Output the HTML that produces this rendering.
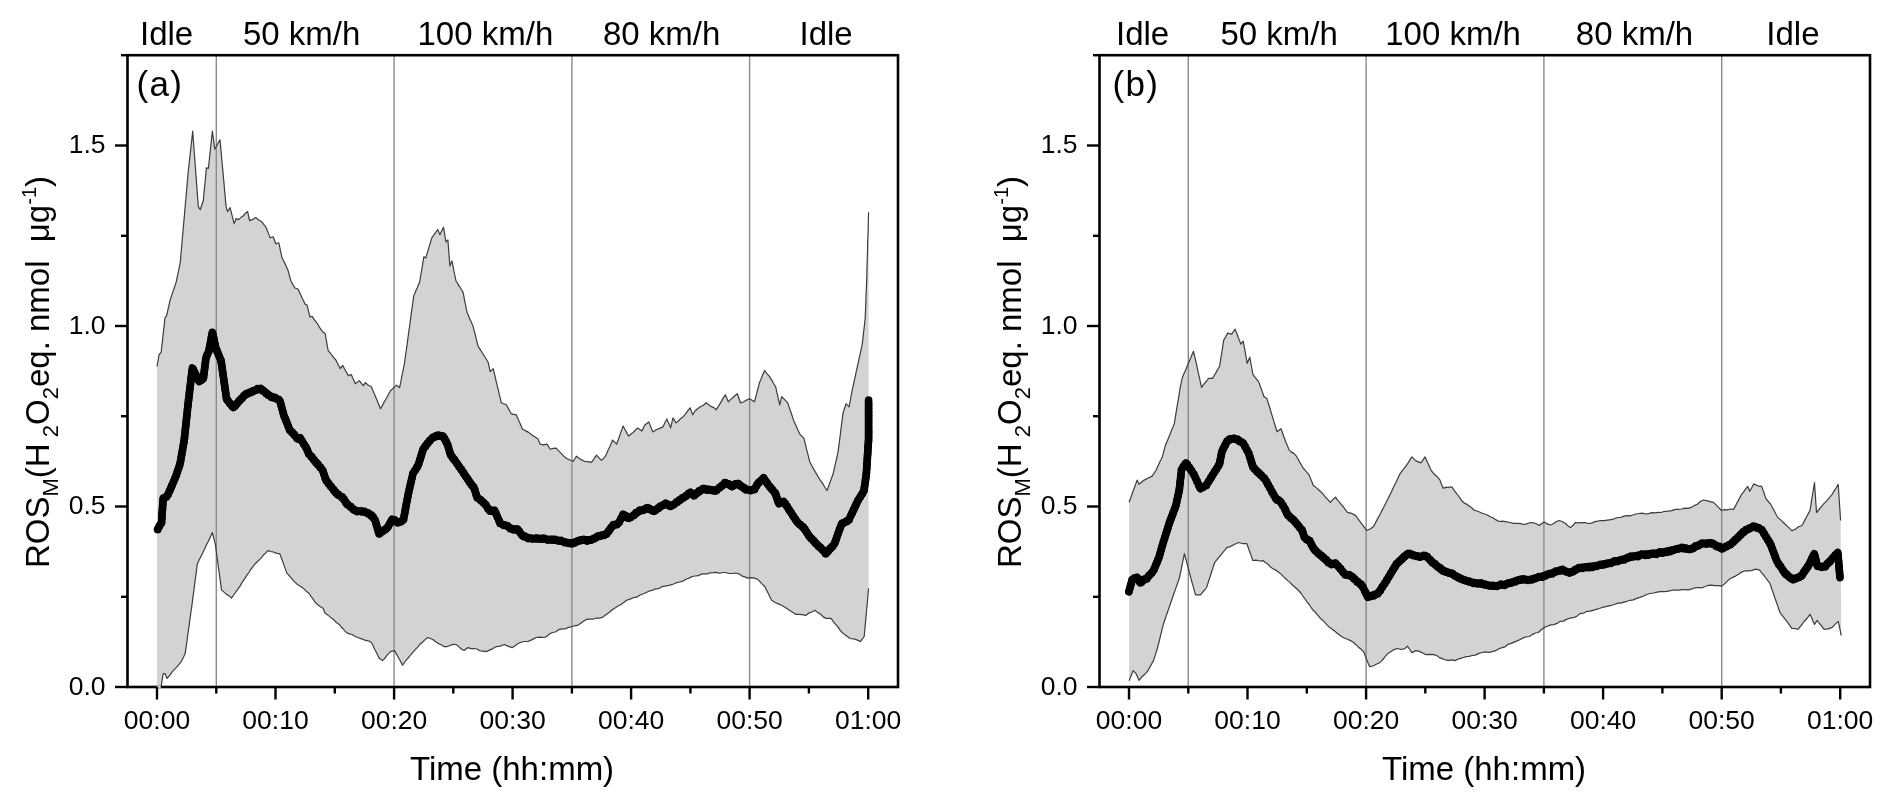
<!DOCTYPE html>
<html><head><meta charset="utf-8"><style>
html,body{margin:0;padding:0;background:#fff;}
svg{display:block;will-change:transform;}
text{font-family:"Liberation Sans",sans-serif;fill:#000;}
.tl{font-size:26.5px;}
.top{font-size:33px;}
.pl{font-size:35px;letter-spacing:1.3px;}
.ti{font-size:33px;}
</style></head><body>
<svg width="1892" height="805" viewBox="0 0 1892 805">
<rect width="1892" height="805" fill="#fff"/>
<polygon points="157.0,366.5 157.5,363.5 158.1,360.5 158.6,357.5 159.1,354.5 161.1,352.5 161.5,349.3 161.8,346.1 162.2,342.9 162.6,339.7 162.9,336.4 163.3,333.2 163.6,330.0 164.0,326.8 164.4,323.6 164.7,320.4 165.1,317.2 166.5,316.2 167.2,313.0 167.9,309.8 168.7,306.5 169.4,303.4 170.1,300.1 171.1,297.1 172.1,294.1 173.1,291.1 174.2,288.0 175.2,285.1 176.2,282.0 176.9,278.8 177.5,275.7 178.2,272.4 178.9,269.3 179.5,266.1 180.2,262.9 180.5,259.9 180.7,256.9 181.0,253.8 181.3,250.8 181.5,247.8 181.8,244.8 182.1,241.8 182.3,238.7 182.6,235.7 182.9,232.7 183.1,229.7 183.4,226.7 183.7,223.6 183.9,220.6 184.2,217.6 184.5,214.6 184.7,211.6 185.0,208.5 185.3,205.5 185.5,202.5 185.8,199.5 186.1,196.5 186.3,193.4 186.6,190.4 186.9,187.4 187.1,184.4 187.4,181.4 187.7,178.3 187.9,175.3 188.2,172.3 188.5,169.1 188.9,166.0 189.2,162.8 189.6,159.6 189.9,156.5 190.3,153.3 190.6,150.1 191.0,146.9 191.3,143.8 191.7,140.6 192.0,137.4 192.4,134.3 192.7,131.1 192.9,134.1 193.1,137.1 193.4,140.2 193.6,143.2 193.8,146.2 194.0,149.2 194.3,152.2 194.5,155.3 194.7,158.3 194.9,161.3 195.2,164.3 195.4,167.3 195.6,170.4 195.8,173.4 196.1,176.4 196.3,179.4 196.5,182.4 196.7,185.5 197.0,188.5 197.2,191.5 197.4,194.5 197.6,197.5 197.9,200.6 198.1,203.6 198.3,206.6 200.3,209.6 201.3,206.5 202.3,203.5 203.3,200.5 203.6,197.2 203.9,194.0 204.2,190.7 204.5,187.5 204.9,184.2 205.2,180.9 205.5,177.7 205.8,174.4 206.1,171.2 206.4,167.9 208.4,168.3 208.7,165.2 209.1,162.1 209.4,159.0 209.7,155.9 210.1,152.8 210.4,149.7 210.7,146.6 211.1,143.5 211.4,140.4 211.7,137.3 212.1,134.2 212.4,131.1 212.8,134.1 213.2,137.1 213.6,140.1 214.0,143.2 214.4,146.2 214.8,149.2 216.5,146.2 218.3,142.8 220.0,139.7 220.3,142.7 220.6,145.8 220.8,148.8 221.1,151.9 221.4,154.9 221.7,158.0 221.9,161.0 222.2,164.0 222.5,167.1 222.8,170.1 223.1,173.2 223.3,176.2 223.6,179.2 223.9,182.3 224.2,185.3 224.4,188.4 224.7,191.4 225.0,194.4 225.3,197.5 225.5,200.5 225.8,203.6 226.1,206.6 227.5,211.6 230.1,207.6 230.9,210.9 231.7,214.0 232.5,217.3 233.3,220.4 234.1,223.7 236.2,218.6 238.6,219.6 240.8,217.6 243.1,216.0 245.3,213.3 247.6,211.6 248.3,214.6 248.9,217.6 249.6,220.6 252.6,219.4 255.7,217.6 258.7,219.9 261.7,221.7 263.7,224.4 265.7,226.7 267.2,230.3 268.7,234.1 270.2,237.8 273.2,236.7 274.5,240.2 275.8,243.8 278.8,242.8 279.6,246.3 280.3,249.8 281.1,253.4 281.8,256.9 283.3,260.3 284.9,263.4 286.4,266.8 287.9,270.0 288.9,273.6 289.9,277.3 290.9,281.0 292.9,284.6 294.9,288.0 298.0,289.0 299.4,292.0 300.8,295.1 302.2,298.2 303.6,301.1 305.0,304.1 307.0,305.1 307.8,308.1 308.5,311.1 309.2,314.1 310.0,317.2 312.0,316.2 313.9,319.1 315.7,321.4 317.6,324.0 319.4,327.1 321.2,329.8 323.1,332.3 325.1,333.3 325.7,336.7 326.3,340.2 326.9,343.5 327.5,347.0 328.1,350.4 330.1,352.9 332.1,355.5 334.2,358.1 336.2,360.5 337.5,363.3 338.9,366.0 340.2,368.6 342.8,365.5 344.6,369.0 346.5,372.3 348.3,375.6 351.3,374.6 352.6,377.7 354.0,380.6 355.3,383.7 359.3,380.6 361.4,383.4 363.4,385.7 365.4,382.6 368.4,385.2 371.4,386.7 372.7,389.9 374.0,392.9 375.3,396.2 376.6,399.3 377.9,402.4 379.2,405.6 380.5,408.8 382.2,405.9 383.8,402.8 385.5,399.7 387.2,396.8 388.8,393.8 390.5,390.7 393.6,387.9 396.6,385.1 399.6,387.7 400.2,384.6 400.9,381.4 401.5,378.2 402.1,375.1 402.7,372.0 403.4,368.8 404.0,365.7 404.6,362.5 405.0,359.5 405.4,356.5 405.8,353.4 406.3,350.4 406.7,347.4 407.1,344.4 407.5,341.4 407.9,338.4 408.3,335.3 408.7,332.3 409.1,329.3 409.6,326.3 410.0,323.3 410.4,320.2 410.8,317.2 411.2,314.2 411.6,311.2 412.0,308.2 412.5,305.2 412.9,302.1 413.3,299.1 413.7,296.1 414.9,293.3 416.1,290.3 417.3,287.7 418.5,284.8 419.7,282.0 420.2,278.9 420.7,275.7 421.2,272.6 421.8,269.5 422.3,266.3 422.8,263.2 423.3,260.1 423.8,256.9 425.8,257.9 426.8,254.6 427.8,251.2 428.8,247.8 429.8,244.5 430.8,241.2 431.8,237.8 433.8,235.2 435.8,232.2 437.8,229.7 439.9,234.7 441.7,231.0 443.5,227.3 444.1,230.9 444.7,234.5 445.3,238.2 445.9,241.8 447.9,239.8 448.1,243.1 448.4,246.3 448.6,249.6 448.9,252.8 449.1,256.1 449.4,259.4 449.6,262.6 449.9,265.9 451.9,260.9 452.6,264.2 453.3,267.6 453.9,271.0 454.6,274.3 455.3,277.7 456.0,281.0 457.8,283.6 459.5,286.6 461.2,289.3 463.0,292.1 463.7,295.4 464.3,298.8 465.0,302.2 465.7,305.5 466.3,308.9 467.0,312.2 468.2,315.0 469.4,317.9 470.7,320.8 471.9,323.4 473.1,326.3 473.9,329.7 474.8,333.0 475.6,336.3 476.4,339.7 477.3,343.1 478.1,346.4 480.1,349.4 482.1,352.5 484.1,355.7 486.2,359.0 488.2,362.5 488.9,365.5 489.5,368.6 490.2,371.6 493.2,368.6 493.9,371.7 494.7,374.8 495.4,377.9 496.1,381.0 496.9,384.2 497.6,387.3 498.4,390.4 499.1,393.4 499.8,396.6 500.6,399.7 501.3,402.8 506.3,404.8 508.0,407.9 509.6,410.7 511.3,413.8 516.3,414.8 517.5,417.7 518.7,420.5 520.0,423.3 521.2,426.1 522.4,428.9 525.2,430.6 528.1,432.1 531.6,434.7 535.1,437.1 538.1,439.1 540.1,444.2 543.7,444.8 547.2,444.2 550.2,449.2 553.2,448.3 556.2,448.2 558.7,450.8 561.2,453.3 563.8,456.1 566.3,458.2 569.8,460.0 573.3,461.3 576.4,456.2 579.1,458.2 581.7,459.9 584.4,461.3 588.0,461.6 591.5,462.3 594.0,458.9 596.5,455.2 599.0,457.8 601.5,460.3 605.5,456.2 606.9,452.9 608.3,449.8 609.8,446.7 611.2,443.4 612.6,440.1 616.6,444.2 617.7,441.2 618.8,438.2 619.9,435.1 620.9,432.0 622.0,429.1 623.1,426.0 625.0,429.5 626.8,432.9 628.7,436.1 631.0,434.0 633.2,432.4 635.5,430.0 637.8,428.0 641.8,431.0 643.3,428.1 644.8,424.9 648.8,421.9 650.2,425.4 651.5,428.7 652.9,432.0 656.2,429.8 659.6,428.4 662.9,426.9 664.9,422.8 666.9,418.9 668.1,421.9 669.4,424.8 670.6,427.9 671.4,424.6 672.2,421.2 673.0,417.9 676.0,422.9 678.3,421.0 680.7,418.6 683.0,416.9 685.4,414.2 687.7,410.9 690.1,407.8 691.4,411.3 692.7,414.8 695.1,410.8 697.9,408.5 700.7,406.5 703.4,405.2 706.2,402.8 708.7,404.8 711.2,406.6 713.8,407.6 716.3,409.8 718.1,406.6 719.9,403.9 721.7,400.9 723.5,397.6 725.3,394.7 726.8,398.3 728.3,401.8 730.6,399.4 732.8,397.7 735.1,395.5 737.4,393.7 738.4,396.8 739.4,399.7 740.4,402.8 743.4,402.0 746.5,400.1 749.5,398.7 754.5,401.8 755.3,398.6 756.2,395.4 757.0,392.2 757.8,389.0 758.7,385.8 759.5,382.6 760.8,379.7 762.0,376.5 763.3,373.5 764.6,370.6 767.1,373.8 769.6,376.6 771.6,379.9 773.6,383.5 775.6,386.7 776.3,389.7 777.0,392.8 777.7,395.7 778.3,398.8 779.0,401.7 779.7,404.8 780.7,400.7 781.7,396.7 784.7,399.6 787.7,402.8 788.7,405.9 789.7,408.8 790.8,411.9 791.8,414.8 792.8,417.9 793.8,420.9 795.3,424.1 796.8,427.4 798.3,430.9 799.8,434.1 803.8,438.1 804.6,441.1 805.3,444.1 806.1,447.2 806.8,450.2 807.6,453.2 808.4,456.3 809.1,459.3 809.9,462.3 811.5,465.0 813.1,468.0 814.7,470.9 816.3,473.6 817.9,476.4 819.7,479.3 821.5,481.8 823.4,484.7 825.2,487.7 827.0,490.5 828.2,487.3 829.4,484.0 830.6,480.7 831.8,477.5 833.0,474.3 833.7,471.1 834.4,468.0 835.1,464.8 835.9,461.7 836.6,458.5 837.3,455.4 838.0,452.2 838.4,449.2 838.8,446.1 839.2,443.1 839.6,440.1 840.0,437.1 840.4,434.0 840.7,431.0 841.1,427.9 841.5,424.9 841.9,421.9 842.3,418.9 842.7,415.8 843.1,412.8 844.1,409.8 845.1,406.8 846.1,403.8 849.1,406.8 849.7,403.6 850.3,400.3 850.9,397.1 851.5,393.9 852.1,390.7 852.8,387.6 853.4,384.6 854.1,381.4 854.8,378.4 855.5,375.3 856.1,372.2 856.8,369.1 857.5,366.0 858.2,362.9 858.8,359.9 859.5,356.7 860.2,353.6 860.9,350.6 861.5,347.5 862.2,344.4 862.6,341.1 863.0,337.8 863.3,334.6 863.7,331.3 864.1,328.0 864.5,324.7 864.8,321.5 865.2,318.2 865.3,315.2 865.4,312.2 865.6,309.2 865.7,306.1 865.8,303.1 865.9,300.1 866.0,297.1 866.1,294.1 866.2,291.0 866.4,288.0 866.5,285.0 866.6,282.0 866.7,279.0 866.8,275.9 866.9,272.9 866.9,269.9 867.0,266.8 867.1,263.8 867.2,260.8 867.3,257.7 867.4,254.7 867.5,251.7 867.6,248.6 867.6,245.6 867.7,242.5 867.8,239.5 867.9,236.5 868.0,233.4 868.1,230.4 868.2,227.4 868.3,224.3 868.3,221.3 868.4,218.3 868.5,215.2 868.6,212.2 868.6,588.2 868.3,591.4 868.0,594.5 867.7,597.7 867.5,600.8 867.2,604.0 866.9,607.1 866.6,610.3 866.3,613.6 866.0,616.9 865.7,620.1 865.4,623.4 865.1,626.7 864.8,630.0 864.5,633.2 864.2,636.5 862.2,639.1 860.2,641.5 856.8,639.9 853.5,638.8 850.1,638.5 847.4,636.5 844.8,634.6 842.1,632.5 839.9,629.8 837.7,626.7 835.4,624.2 833.2,621.4 831.0,618.4 826.0,618.4 823.2,616.9 820.5,614.0 817.7,612.6 814.9,610.3 811.9,612.0 808.8,613.1 805.8,615.4 802.5,614.6 799.1,614.3 795.8,614.3 793.0,612.4 790.2,610.8 787.3,608.7 784.5,607.1 781.7,605.3 778.3,603.9 775.0,602.5 771.6,600.3 770.2,597.5 768.8,594.6 767.4,591.7 766.0,589.1 764.6,586.2 762.2,584.1 759.9,581.7 757.5,579.1 754.2,578.2 750.8,577.7 747.5,578.1 744.8,576.9 742.1,576.1 739.4,574.1 735.9,573.0 732.3,573.5 728.8,573.5 725.3,572.5 722.3,572.5 719.3,573.3 716.3,572.4 713.2,572.7 710.2,572.8 707.2,573.9 704.2,573.9 701.2,574.1 698.2,575.7 695.2,576.0 692.1,576.5 689.1,578.1 685.9,579.2 682.7,581.2 679.4,582.0 676.2,582.8 673.0,584.2 669.0,585.4 664.9,586.2 661.9,586.7 658.9,588.6 655.8,588.8 652.8,590.1 649.8,590.8 646.8,592.2 643.4,593.8 640.1,595.0 636.7,597.2 633.4,597.7 630.0,599.1 626.7,600.3 623.7,602.6 620.7,604.7 617.6,606.3 614.6,608.3 612.2,609.8 609.8,612.0 607.3,613.7 604.9,615.5 602.5,617.4 599.3,618.1 596.1,618.2 592.8,619.2 589.6,619.1 586.4,619.4 583.4,621.3 580.4,623.5 577.4,625.4 574.4,625.8 571.3,626.8 568.3,627.4 565.1,629.0 561.9,628.9 558.6,629.7 555.4,632.0 552.2,632.5 549.5,634.0 546.9,636.3 544.2,637.5 540.2,637.1 536.1,637.5 532.1,639.6 528.1,641.5 524.2,641.5 520.4,642.5 517.7,643.8 515.0,645.9 512.3,647.6 508.3,646.4 504.3,644.5 500.2,646.1 496.2,646.6 492.9,648.6 489.5,650.1 486.2,651.6 483.2,651.2 480.1,651.0 477.1,649.0 474.1,648.5 471.0,648.6 468.0,647.6 464.0,650.6 461.3,649.0 458.7,646.6 456.0,644.5 453.0,644.4 449.9,645.5 446.9,646.7 443.9,646.6 441.1,644.8 438.4,643.6 435.6,641.7 432.8,639.5 427.8,637.5 425.1,639.6 422.4,642.2 419.7,644.5 417.7,647.1 415.7,649.1 413.7,651.3 411.7,653.6 409.4,656.5 407.1,659.2 404.9,662.0 402.6,665.1 401.0,662.1 399.4,659.3 397.8,656.5 396.2,653.6 394.6,650.6 390.5,651.6 388.5,653.7 386.5,655.8 384.5,658.6 382.5,660.6 379.5,658.6 378.1,656.0 376.8,653.2 375.4,650.6 374.1,648.0 372.8,645.0 371.4,642.5 368.2,640.8 365.0,640.2 361.7,638.9 358.5,637.7 355.3,636.5 352.0,634.5 348.6,633.7 345.3,631.5 343.3,629.0 341.2,627.0 339.2,624.4 336.4,622.5 333.6,619.6 330.7,617.4 327.9,615.1 325.1,613.3 323.1,608.3 320.4,606.7 317.8,604.7 315.1,602.3 313.1,599.1 311.0,596.4 309.0,593.2 306.2,591.2 303.4,588.4 300.5,586.2 297.7,584.7 294.9,582.1 292.9,580.1 290.9,577.7 288.9,575.4 286.9,573.1 285.7,569.9 284.5,566.6 283.4,563.4 282.2,560.2 281.0,556.9 279.8,553.7 276.8,553.4 273.8,552.2 270.8,551.5 267.8,550.7 265.6,553.1 263.5,555.0 261.3,557.9 259.2,559.9 257.0,562.0 254.9,564.2 252.7,566.8 250.9,569.3 249.1,572.3 247.2,574.6 245.4,577.6 243.6,580.1 241.9,582.7 240.3,585.6 238.6,588.2 236.8,590.7 235.1,593.0 233.3,595.5 231.5,598.2 229.0,595.7 226.5,594.4 224.0,592.1 221.5,589.9 221.1,586.9 220.7,583.9 220.3,580.8 219.9,577.8 219.5,574.8 219.1,571.8 218.7,568.8 218.2,565.7 217.8,562.7 217.4,559.7 217.0,556.7 216.6,553.6 216.2,550.6 215.8,547.6 215.4,544.6 214.7,541.6 213.9,538.6 213.2,535.6 212.4,532.6 211.0,535.5 209.5,538.7 208.1,541.7 206.6,544.5 205.2,547.7 203.7,550.8 202.3,553.7 200.6,557.0 199.0,560.5 197.3,564.0 196.9,567.2 196.5,570.4 196.1,573.6 195.6,576.8 195.2,580.0 194.8,583.1 194.4,586.4 194.0,589.5 193.6,592.7 193.1,595.9 192.7,599.1 192.3,602.3 191.9,605.3 191.5,608.3 191.0,611.4 190.6,614.4 190.2,617.4 189.8,620.4 189.4,623.4 189.0,626.4 188.5,629.5 188.1,632.5 187.7,635.5 187.3,638.5 186.9,641.5 186.5,644.5 186.0,647.6 185.6,650.6 185.2,653.6 183.9,656.3 182.5,659.0 181.2,661.7 178.9,664.6 176.5,667.3 174.2,669.7 171.8,672.3 169.5,675.7 167.1,678.4 165.1,673.7 163.1,673.7 162.6,677.0 162.1,680.2 161.6,683.5 161.1,686.8 157.0,687.0" fill="#d3d3d3" stroke="none"/>
<line x1="216.3" y1="55.2" x2="216.3" y2="687.0" stroke="#8a8a8a" stroke-width="1.4"/>
<line x1="394.1" y1="55.2" x2="394.1" y2="687.0" stroke="#8a8a8a" stroke-width="1.4"/>
<line x1="571.9" y1="55.2" x2="571.9" y2="687.0" stroke="#8a8a8a" stroke-width="1.4"/>
<line x1="749.6" y1="55.2" x2="749.6" y2="687.0" stroke="#8a8a8a" stroke-width="1.4"/>
<polyline points="157.0,366.5 157.5,363.5 158.1,360.5 158.6,357.5 159.1,354.5 161.1,352.5 161.5,349.3 161.8,346.1 162.2,342.9 162.6,339.7 162.9,336.4 163.3,333.2 163.6,330.0 164.0,326.8 164.4,323.6 164.7,320.4 165.1,317.2 166.5,316.2 167.2,313.0 167.9,309.8 168.7,306.5 169.4,303.4 170.1,300.1 171.1,297.1 172.1,294.1 173.1,291.1 174.2,288.0 175.2,285.1 176.2,282.0 176.9,278.8 177.5,275.7 178.2,272.4 178.9,269.3 179.5,266.1 180.2,262.9 180.5,259.9 180.7,256.9 181.0,253.8 181.3,250.8 181.5,247.8 181.8,244.8 182.1,241.8 182.3,238.7 182.6,235.7 182.9,232.7 183.1,229.7 183.4,226.7 183.7,223.6 183.9,220.6 184.2,217.6 184.5,214.6 184.7,211.6 185.0,208.5 185.3,205.5 185.5,202.5 185.8,199.5 186.1,196.5 186.3,193.4 186.6,190.4 186.9,187.4 187.1,184.4 187.4,181.4 187.7,178.3 187.9,175.3 188.2,172.3 188.5,169.1 188.9,166.0 189.2,162.8 189.6,159.6 189.9,156.5 190.3,153.3 190.6,150.1 191.0,146.9 191.3,143.8 191.7,140.6 192.0,137.4 192.4,134.3 192.7,131.1 192.9,134.1 193.1,137.1 193.4,140.2 193.6,143.2 193.8,146.2 194.0,149.2 194.3,152.2 194.5,155.3 194.7,158.3 194.9,161.3 195.2,164.3 195.4,167.3 195.6,170.4 195.8,173.4 196.1,176.4 196.3,179.4 196.5,182.4 196.7,185.5 197.0,188.5 197.2,191.5 197.4,194.5 197.6,197.5 197.9,200.6 198.1,203.6 198.3,206.6 200.3,209.6 201.3,206.5 202.3,203.5 203.3,200.5 203.6,197.2 203.9,194.0 204.2,190.7 204.5,187.5 204.9,184.2 205.2,180.9 205.5,177.7 205.8,174.4 206.1,171.2 206.4,167.9 208.4,168.3 208.7,165.2 209.1,162.1 209.4,159.0 209.7,155.9 210.1,152.8 210.4,149.7 210.7,146.6 211.1,143.5 211.4,140.4 211.7,137.3 212.1,134.2 212.4,131.1 212.8,134.1 213.2,137.1 213.6,140.1 214.0,143.2 214.4,146.2 214.8,149.2 216.5,146.2 218.3,142.8 220.0,139.7 220.3,142.7 220.6,145.8 220.8,148.8 221.1,151.9 221.4,154.9 221.7,158.0 221.9,161.0 222.2,164.0 222.5,167.1 222.8,170.1 223.1,173.2 223.3,176.2 223.6,179.2 223.9,182.3 224.2,185.3 224.4,188.4 224.7,191.4 225.0,194.4 225.3,197.5 225.5,200.5 225.8,203.6 226.1,206.6 227.5,211.6 230.1,207.6 230.9,210.9 231.7,214.0 232.5,217.3 233.3,220.4 234.1,223.7 236.2,218.6 238.6,219.6 240.8,217.6 243.1,216.0 245.3,213.3 247.6,211.6 248.3,214.6 248.9,217.6 249.6,220.6 252.6,219.4 255.7,217.6 258.7,219.9 261.7,221.7 263.7,224.4 265.7,226.7 267.2,230.3 268.7,234.1 270.2,237.8 273.2,236.7 274.5,240.2 275.8,243.8 278.8,242.8 279.6,246.3 280.3,249.8 281.1,253.4 281.8,256.9 283.3,260.3 284.9,263.4 286.4,266.8 287.9,270.0 288.9,273.6 289.9,277.3 290.9,281.0 292.9,284.6 294.9,288.0 298.0,289.0 299.4,292.0 300.8,295.1 302.2,298.2 303.6,301.1 305.0,304.1 307.0,305.1 307.8,308.1 308.5,311.1 309.2,314.1 310.0,317.2 312.0,316.2 313.9,319.1 315.7,321.4 317.6,324.0 319.4,327.1 321.2,329.8 323.1,332.3 325.1,333.3 325.7,336.7 326.3,340.2 326.9,343.5 327.5,347.0 328.1,350.4 330.1,352.9 332.1,355.5 334.2,358.1 336.2,360.5 337.5,363.3 338.9,366.0 340.2,368.6 342.8,365.5 344.6,369.0 346.5,372.3 348.3,375.6 351.3,374.6 352.6,377.7 354.0,380.6 355.3,383.7 359.3,380.6 361.4,383.4 363.4,385.7 365.4,382.6 368.4,385.2 371.4,386.7 372.7,389.9 374.0,392.9 375.3,396.2 376.6,399.3 377.9,402.4 379.2,405.6 380.5,408.8 382.2,405.9 383.8,402.8 385.5,399.7 387.2,396.8 388.8,393.8 390.5,390.7 393.6,387.9 396.6,385.1 399.6,387.7 400.2,384.6 400.9,381.4 401.5,378.2 402.1,375.1 402.7,372.0 403.4,368.8 404.0,365.7 404.6,362.5 405.0,359.5 405.4,356.5 405.8,353.4 406.3,350.4 406.7,347.4 407.1,344.4 407.5,341.4 407.9,338.4 408.3,335.3 408.7,332.3 409.1,329.3 409.6,326.3 410.0,323.3 410.4,320.2 410.8,317.2 411.2,314.2 411.6,311.2 412.0,308.2 412.5,305.2 412.9,302.1 413.3,299.1 413.7,296.1 414.9,293.3 416.1,290.3 417.3,287.7 418.5,284.8 419.7,282.0 420.2,278.9 420.7,275.7 421.2,272.6 421.8,269.5 422.3,266.3 422.8,263.2 423.3,260.1 423.8,256.9 425.8,257.9 426.8,254.6 427.8,251.2 428.8,247.8 429.8,244.5 430.8,241.2 431.8,237.8 433.8,235.2 435.8,232.2 437.8,229.7 439.9,234.7 441.7,231.0 443.5,227.3 444.1,230.9 444.7,234.5 445.3,238.2 445.9,241.8 447.9,239.8 448.1,243.1 448.4,246.3 448.6,249.6 448.9,252.8 449.1,256.1 449.4,259.4 449.6,262.6 449.9,265.9 451.9,260.9 452.6,264.2 453.3,267.6 453.9,271.0 454.6,274.3 455.3,277.7 456.0,281.0 457.8,283.6 459.5,286.6 461.2,289.3 463.0,292.1 463.7,295.4 464.3,298.8 465.0,302.2 465.7,305.5 466.3,308.9 467.0,312.2 468.2,315.0 469.4,317.9 470.7,320.8 471.9,323.4 473.1,326.3 473.9,329.7 474.8,333.0 475.6,336.3 476.4,339.7 477.3,343.1 478.1,346.4 480.1,349.4 482.1,352.5 484.1,355.7 486.2,359.0 488.2,362.5 488.9,365.5 489.5,368.6 490.2,371.6 493.2,368.6 493.9,371.7 494.7,374.8 495.4,377.9 496.1,381.0 496.9,384.2 497.6,387.3 498.4,390.4 499.1,393.4 499.8,396.6 500.6,399.7 501.3,402.8 506.3,404.8 508.0,407.9 509.6,410.7 511.3,413.8 516.3,414.8 517.5,417.7 518.7,420.5 520.0,423.3 521.2,426.1 522.4,428.9 525.2,430.6 528.1,432.1 531.6,434.7 535.1,437.1 538.1,439.1 540.1,444.2 543.7,444.8 547.2,444.2 550.2,449.2 553.2,448.3 556.2,448.2 558.7,450.8 561.2,453.3 563.8,456.1 566.3,458.2 569.8,460.0 573.3,461.3 576.4,456.2 579.1,458.2 581.7,459.9 584.4,461.3 588.0,461.6 591.5,462.3 594.0,458.9 596.5,455.2 599.0,457.8 601.5,460.3 605.5,456.2 606.9,452.9 608.3,449.8 609.8,446.7 611.2,443.4 612.6,440.1 616.6,444.2 617.7,441.2 618.8,438.2 619.9,435.1 620.9,432.0 622.0,429.1 623.1,426.0 625.0,429.5 626.8,432.9 628.7,436.1 631.0,434.0 633.2,432.4 635.5,430.0 637.8,428.0 641.8,431.0 643.3,428.1 644.8,424.9 648.8,421.9 650.2,425.4 651.5,428.7 652.9,432.0 656.2,429.8 659.6,428.4 662.9,426.9 664.9,422.8 666.9,418.9 668.1,421.9 669.4,424.8 670.6,427.9 671.4,424.6 672.2,421.2 673.0,417.9 676.0,422.9 678.3,421.0 680.7,418.6 683.0,416.9 685.4,414.2 687.7,410.9 690.1,407.8 691.4,411.3 692.7,414.8 695.1,410.8 697.9,408.5 700.7,406.5 703.4,405.2 706.2,402.8 708.7,404.8 711.2,406.6 713.8,407.6 716.3,409.8 718.1,406.6 719.9,403.9 721.7,400.9 723.5,397.6 725.3,394.7 726.8,398.3 728.3,401.8 730.6,399.4 732.8,397.7 735.1,395.5 737.4,393.7 738.4,396.8 739.4,399.7 740.4,402.8 743.4,402.0 746.5,400.1 749.5,398.7 754.5,401.8 755.3,398.6 756.2,395.4 757.0,392.2 757.8,389.0 758.7,385.8 759.5,382.6 760.8,379.7 762.0,376.5 763.3,373.5 764.6,370.6 767.1,373.8 769.6,376.6 771.6,379.9 773.6,383.5 775.6,386.7 776.3,389.7 777.0,392.8 777.7,395.7 778.3,398.8 779.0,401.7 779.7,404.8 780.7,400.7 781.7,396.7 784.7,399.6 787.7,402.8 788.7,405.9 789.7,408.8 790.8,411.9 791.8,414.8 792.8,417.9 793.8,420.9 795.3,424.1 796.8,427.4 798.3,430.9 799.8,434.1 803.8,438.1 804.6,441.1 805.3,444.1 806.1,447.2 806.8,450.2 807.6,453.2 808.4,456.3 809.1,459.3 809.9,462.3 811.5,465.0 813.1,468.0 814.7,470.9 816.3,473.6 817.9,476.4 819.7,479.3 821.5,481.8 823.4,484.7 825.2,487.7 827.0,490.5 828.2,487.3 829.4,484.0 830.6,480.7 831.8,477.5 833.0,474.3 833.7,471.1 834.4,468.0 835.1,464.8 835.9,461.7 836.6,458.5 837.3,455.4 838.0,452.2 838.4,449.2 838.8,446.1 839.2,443.1 839.6,440.1 840.0,437.1 840.4,434.0 840.7,431.0 841.1,427.9 841.5,424.9 841.9,421.9 842.3,418.9 842.7,415.8 843.1,412.8 844.1,409.8 845.1,406.8 846.1,403.8 849.1,406.8 849.7,403.6 850.3,400.3 850.9,397.1 851.5,393.9 852.1,390.7 852.8,387.6 853.4,384.6 854.1,381.4 854.8,378.4 855.5,375.3 856.1,372.2 856.8,369.1 857.5,366.0 858.2,362.9 858.8,359.9 859.5,356.7 860.2,353.6 860.9,350.6 861.5,347.5 862.2,344.4 862.6,341.1 863.0,337.8 863.3,334.6 863.7,331.3 864.1,328.0 864.5,324.7 864.8,321.5 865.2,318.2 865.3,315.2 865.4,312.2 865.6,309.2 865.7,306.1 865.8,303.1 865.9,300.1 866.0,297.1 866.1,294.1 866.2,291.0 866.4,288.0 866.5,285.0 866.6,282.0 866.7,279.0 866.8,275.9 866.9,272.9 866.9,269.9 867.0,266.8 867.1,263.8 867.2,260.8 867.3,257.7 867.4,254.7 867.5,251.7 867.6,248.6 867.6,245.6 867.7,242.5 867.8,239.5 867.9,236.5 868.0,233.4 868.1,230.4 868.2,227.4 868.3,224.3 868.3,221.3 868.4,218.3 868.5,215.2 868.6,212.2" fill="none" stroke="#3c3c3c" stroke-width="1.2" stroke-linejoin="round"/>
<polyline points="157.0,687.0 161.1,686.8 161.6,683.5 162.1,680.2 162.6,677.0 163.1,673.7 165.1,673.7 167.1,678.4 169.5,675.7 171.8,672.3 174.2,669.7 176.5,667.3 178.9,664.6 181.2,661.7 182.5,659.0 183.9,656.3 185.2,653.6 185.6,650.6 186.0,647.6 186.5,644.5 186.9,641.5 187.3,638.5 187.7,635.5 188.1,632.5 188.5,629.5 189.0,626.4 189.4,623.4 189.8,620.4 190.2,617.4 190.6,614.4 191.0,611.4 191.5,608.3 191.9,605.3 192.3,602.3 192.7,599.1 193.1,595.9 193.6,592.7 194.0,589.5 194.4,586.4 194.8,583.1 195.2,580.0 195.6,576.8 196.1,573.6 196.5,570.4 196.9,567.2 197.3,564.0 199.0,560.5 200.6,557.0 202.3,553.7 203.7,550.8 205.2,547.7 206.6,544.5 208.1,541.7 209.5,538.7 211.0,535.5 212.4,532.6 213.2,535.6 213.9,538.6 214.7,541.6 215.4,544.6 215.8,547.6 216.2,550.6 216.6,553.6 217.0,556.7 217.4,559.7 217.8,562.7 218.2,565.7 218.7,568.8 219.1,571.8 219.5,574.8 219.9,577.8 220.3,580.8 220.7,583.9 221.1,586.9 221.5,589.9 224.0,592.1 226.5,594.4 229.0,595.7 231.5,598.2 233.3,595.5 235.1,593.0 236.8,590.7 238.6,588.2 240.3,585.6 241.9,582.7 243.6,580.1 245.4,577.6 247.2,574.6 249.1,572.3 250.9,569.3 252.7,566.8 254.9,564.2 257.0,562.0 259.2,559.9 261.3,557.9 263.5,555.0 265.6,553.1 267.8,550.7 270.8,551.5 273.8,552.2 276.8,553.4 279.8,553.7 281.0,556.9 282.2,560.2 283.4,563.4 284.5,566.6 285.7,569.9 286.9,573.1 288.9,575.4 290.9,577.7 292.9,580.1 294.9,582.1 297.7,584.7 300.5,586.2 303.4,588.4 306.2,591.2 309.0,593.2 311.0,596.4 313.1,599.1 315.1,602.3 317.8,604.7 320.4,606.7 323.1,608.3 325.1,613.3 327.9,615.1 330.7,617.4 333.6,619.6 336.4,622.5 339.2,624.4 341.2,627.0 343.3,629.0 345.3,631.5 348.6,633.7 352.0,634.5 355.3,636.5 358.5,637.7 361.7,638.9 365.0,640.2 368.2,640.8 371.4,642.5 372.8,645.0 374.1,648.0 375.4,650.6 376.8,653.2 378.1,656.0 379.5,658.6 382.5,660.6 384.5,658.6 386.5,655.8 388.5,653.7 390.5,651.6 394.6,650.6 396.2,653.6 397.8,656.5 399.4,659.3 401.0,662.1 402.6,665.1 404.9,662.0 407.1,659.2 409.4,656.5 411.7,653.6 413.7,651.3 415.7,649.1 417.7,647.1 419.7,644.5 422.4,642.2 425.1,639.6 427.8,637.5 432.8,639.5 435.6,641.7 438.4,643.6 441.1,644.8 443.9,646.6 446.9,646.7 449.9,645.5 453.0,644.4 456.0,644.5 458.7,646.6 461.3,649.0 464.0,650.6 468.0,647.6 471.0,648.6 474.1,648.5 477.1,649.0 480.1,651.0 483.2,651.2 486.2,651.6 489.5,650.1 492.9,648.6 496.2,646.6 500.2,646.1 504.3,644.5 508.3,646.4 512.3,647.6 515.0,645.9 517.7,643.8 520.4,642.5 524.2,641.5 528.1,641.5 532.1,639.6 536.1,637.5 540.2,637.1 544.2,637.5 546.9,636.3 549.5,634.0 552.2,632.5 555.4,632.0 558.6,629.7 561.9,628.9 565.1,629.0 568.3,627.4 571.3,626.8 574.4,625.8 577.4,625.4 580.4,623.5 583.4,621.3 586.4,619.4 589.6,619.1 592.8,619.2 596.1,618.2 599.3,618.1 602.5,617.4 604.9,615.5 607.3,613.7 609.8,612.0 612.2,609.8 614.6,608.3 617.6,606.3 620.7,604.7 623.7,602.6 626.7,600.3 630.0,599.1 633.4,597.7 636.7,597.2 640.1,595.0 643.4,593.8 646.8,592.2 649.8,590.8 652.8,590.1 655.8,588.8 658.9,588.6 661.9,586.7 664.9,586.2 669.0,585.4 673.0,584.2 676.2,582.8 679.4,582.0 682.7,581.2 685.9,579.2 689.1,578.1 692.1,576.5 695.2,576.0 698.2,575.7 701.2,574.1 704.2,573.9 707.2,573.9 710.2,572.8 713.2,572.7 716.3,572.4 719.3,573.3 722.3,572.5 725.3,572.5 728.8,573.5 732.3,573.5 735.9,573.0 739.4,574.1 742.1,576.1 744.8,576.9 747.5,578.1 750.8,577.7 754.2,578.2 757.5,579.1 759.9,581.7 762.2,584.1 764.6,586.2 766.0,589.1 767.4,591.7 768.8,594.6 770.2,597.5 771.6,600.3 775.0,602.5 778.3,603.9 781.7,605.3 784.5,607.1 787.3,608.7 790.2,610.8 793.0,612.4 795.8,614.3 799.1,614.3 802.5,614.6 805.8,615.4 808.8,613.1 811.9,612.0 814.9,610.3 817.7,612.6 820.5,614.0 823.2,616.9 826.0,618.4 831.0,618.4 833.2,621.4 835.4,624.2 837.7,626.7 839.9,629.8 842.1,632.5 844.8,634.6 847.4,636.5 850.1,638.5 853.5,638.8 856.8,639.9 860.2,641.5 862.2,639.1 864.2,636.5 864.5,633.2 864.8,630.0 865.1,626.7 865.4,623.4 865.7,620.1 866.0,616.9 866.3,613.6 866.6,610.3 866.9,607.1 867.2,604.0 867.5,600.8 867.7,597.7 868.0,594.5 868.3,591.4 868.6,588.2" fill="none" stroke="#3c3c3c" stroke-width="1.2" stroke-linejoin="round"/>
<polyline points="157.7,529.2 161.5,522.4 163.1,499.2 167.8,495.1 176.0,475.9 180.1,463.6 184.2,440.3 188.3,402.1 192.4,367.9 199.2,381.5 203.3,378.8 206.1,356.9 208.8,351.5 212.4,332.3 215.6,347.4 221.1,361.0 226.6,399.3 233.4,407.5 245.7,393.9 260.8,388.4 269.0,395.2 279.9,400.7 284.0,415.7 289.5,429.4 297.7,439.0 300.0,437.8 306.5,448.3 308.9,453.9 314.5,460.4 322.6,470.1 325.8,479.8 337.1,494.3 342.8,497.5 346.8,504.0 354.9,510.4 364.6,512.1 371.9,515.3 375.1,520.1 379.1,533.9 387.2,528.2 392.1,519.3 398.5,522.6 403.4,520.1 408.2,494.3 413.0,473.3 417.9,466.0 423.5,448.3 430.8,439.4 437.3,435.3 443.7,437.0 447.8,445.0 450.2,453.9 458.3,465.2 464.7,474.9 474.4,488.6 476.8,496.7 485.7,504.8 489.8,511.2 494.6,510.4 500.3,523.4 506.7,525.8 513.2,529.8 518.0,529.8 522.9,536.3 532.6,538.7 546.5,539.3 555.4,539.9 571.9,543.7 580.7,539.9 590.9,539.9 598.5,536.1 606.1,534.2 612.5,526.0 618.8,522.8 623.2,514.5 628.9,518.4 639.1,511.4 648.0,507.6 653.7,511.4 665.7,503.1 670.8,506.3 682.2,498.7 690.5,492.3 693.6,495.5 703.8,488.5 715.2,491.1 725.4,482.8 731.7,486.6 738.0,483.5 745.7,489.8 754.2,489.7 757.7,483.8 763.6,477.9 768.3,485.0 775.4,493.3 778.9,503.9 783.7,501.5 790.7,512.2 797.8,522.8 803.7,527.5 809.6,536.9 826.1,553.5 834.4,544.0 841.5,524.0 848.6,520.4 858.0,500.4 863.9,490.9 866.3,474.4 868.6,439.0 868.6,400.1" fill="none" stroke="#000" stroke-width="7.6" stroke-linejoin="round" stroke-linecap="round"/>
<g fill="#000"><circle cx="157.7" cy="529.4" r="3.90"/><circle cx="159.4" cy="525.9" r="3.90"/><circle cx="161.5" cy="522.7" r="3.90"/><circle cx="161.8" cy="518.8" r="3.80"/><circle cx="162.0" cy="515.8" r="3.80"/><circle cx="162.2" cy="512.6" r="3.80"/><circle cx="162.5" cy="508.6" r="3.80"/><circle cx="162.7" cy="504.8" r="3.80"/><circle cx="162.9" cy="501.7" r="3.80"/><circle cx="163.5" cy="498.4" r="4.03"/><circle cx="166.2" cy="497.0" r="4.03"/><circle cx="168.1" cy="494.3" r="3.86"/><circle cx="169.5" cy="491.1" r="3.86"/><circle cx="170.7" cy="488.3" r="3.86"/><circle cx="172.0" cy="485.3" r="3.86"/><circle cx="173.5" cy="481.8" r="3.86"/><circle cx="174.8" cy="478.6" r="3.86"/><circle cx="176.4" cy="474.7" r="3.84"/><circle cx="177.5" cy="471.2" r="3.84"/><circle cx="178.7" cy="467.8" r="3.84"/><circle cx="179.7" cy="464.9" r="3.84"/><circle cx="180.5" cy="461.6" r="3.81"/><circle cx="181.1" cy="457.9" r="3.81"/><circle cx="181.7" cy="454.3" r="3.81"/><circle cx="182.5" cy="450.2" r="3.81"/><circle cx="183.2" cy="445.9" r="3.81"/><circle cx="183.8" cy="442.7" r="3.81"/><circle cx="184.3" cy="439.5" r="3.80"/><circle cx="184.6" cy="436.3" r="3.80"/><circle cx="185.1" cy="432.1" r="3.80"/><circle cx="185.5" cy="428.0" r="3.80"/><circle cx="185.9" cy="424.6" r="3.80"/><circle cx="186.2" cy="421.3" r="3.80"/><circle cx="186.6" cy="417.7" r="3.80"/><circle cx="187.0" cy="414.2" r="3.80"/><circle cx="187.4" cy="410.1" r="3.80"/><circle cx="187.9" cy="406.1" r="3.80"/><circle cx="188.2" cy="402.8" r="3.80"/><circle cx="188.6" cy="399.7" r="3.81"/><circle cx="189.0" cy="396.6" r="3.81"/><circle cx="189.4" cy="392.6" r="3.81"/><circle cx="189.9" cy="388.6" r="3.81"/><circle cx="190.4" cy="384.8" r="3.81"/><circle cx="190.8" cy="380.9" r="3.81"/><circle cx="191.2" cy="377.8" r="3.81"/><circle cx="191.6" cy="374.6" r="3.81"/><circle cx="192.1" cy="370.5" r="3.81"/><circle cx="193.0" cy="369.1" r="3.88"/><circle cx="194.3" cy="371.8" r="3.88"/><circle cx="195.7" cy="374.4" r="3.88"/><circle cx="197.0" cy="377.1" r="3.88"/><circle cx="198.3" cy="379.9" r="3.88"/><circle cx="200.8" cy="380.2" r="4.08"/><circle cx="203.5" cy="377.5" r="3.81"/><circle cx="203.9" cy="374.3" r="3.81"/><circle cx="204.3" cy="370.9" r="3.81"/><circle cx="204.8" cy="367.4" r="3.81"/><circle cx="205.3" cy="363.3" r="3.81"/><circle cx="205.8" cy="359.3" r="3.81"/><circle cx="206.9" cy="355.4" r="3.88"/><circle cx="208.6" cy="351.8" r="3.88"/><circle cx="209.4" cy="348.3" r="3.81"/><circle cx="210.2" cy="344.3" r="3.81"/><circle cx="210.8" cy="340.8" r="3.81"/><circle cx="211.5" cy="337.1" r="3.81"/><circle cx="212.1" cy="334.1" r="3.81"/><circle cx="212.9" cy="334.6" r="3.82"/><circle cx="213.5" cy="337.5" r="3.82"/><circle cx="214.1" cy="340.3" r="3.82"/><circle cx="214.9" cy="344.1" r="3.82"/><circle cx="215.5" cy="347.1" r="3.82"/><circle cx="216.8" cy="350.4" r="3.86"/><circle cx="218.0" cy="353.4" r="3.86"/><circle cx="219.3" cy="356.6" r="3.86"/><circle cx="220.9" cy="360.4" r="3.86"/><circle cx="221.6" cy="364.5" r="3.81"/><circle cx="222.2" cy="368.4" r="3.81"/><circle cx="222.7" cy="372.4" r="3.81"/><circle cx="223.2" cy="375.6" r="3.81"/><circle cx="223.8" cy="379.7" r="3.81"/><circle cx="224.2" cy="382.7" r="3.81"/><circle cx="224.7" cy="385.9" r="3.81"/><circle cx="225.2" cy="389.6" r="3.81"/><circle cx="225.8" cy="393.7" r="3.81"/><circle cx="226.4" cy="397.6" r="3.81"/><circle cx="227.6" cy="400.2" r="3.96"/><circle cx="229.8" cy="403.2" r="3.96"/><circle cx="232.3" cy="406.2" r="3.96"/><circle cx="234.6" cy="406.2" r="3.98"/><circle cx="236.8" cy="403.7" r="3.98"/><circle cx="239.3" cy="400.7" r="3.98"/><circle cx="241.7" cy="398.6" r="3.98"/><circle cx="244.1" cy="395.8" r="3.98"/><circle cx="247.1" cy="393.9" r="4.15"/><circle cx="250.7" cy="392.3" r="4.15"/><circle cx="253.6" cy="390.8" r="4.15"/><circle cx="257.4" cy="389.0" r="4.15"/><circle cx="260.3" cy="389.2" r="4.15"/><circle cx="263.2" cy="390.9" r="4.04"/><circle cx="266.3" cy="393.5" r="4.04"/><circle cx="268.8" cy="395.3" r="4.04"/><circle cx="271.8" cy="397.3" r="4.12"/><circle cx="274.7" cy="397.7" r="4.12"/><circle cx="278.4" cy="399.6" r="4.12"/><circle cx="280.4" cy="402.6" r="3.83"/><circle cx="281.3" cy="405.8" r="3.83"/><circle cx="282.2" cy="409.0" r="3.83"/><circle cx="283.2" cy="412.9" r="3.83"/><circle cx="284.3" cy="416.5" r="3.86"/><circle cx="285.5" cy="419.3" r="3.86"/><circle cx="286.6" cy="422.0" r="3.86"/><circle cx="288.2" cy="426.2" r="3.86"/><circle cx="289.7" cy="430.0" r="3.97"/><circle cx="292.0" cy="432.3" r="3.97"/><circle cx="294.4" cy="434.8" r="3.97"/><circle cx="297.0" cy="438.0" r="3.97"/><circle cx="300.1" cy="438.2" r="3.91"/><circle cx="301.8" cy="440.7" r="3.91"/><circle cx="303.8" cy="444.1" r="3.91"/><circle cx="305.8" cy="447.1" r="3.91"/><circle cx="307.4" cy="450.4" r="3.86"/><circle cx="308.9" cy="453.9" r="3.86"/><circle cx="311.6" cy="456.8" r="3.97"/><circle cx="314.0" cy="459.9" r="3.97"/><circle cx="316.0" cy="462.5" r="3.96"/><circle cx="318.0" cy="464.4" r="3.96"/><circle cx="320.4" cy="467.4" r="3.96"/><circle cx="322.8" cy="470.6" r="3.84"/><circle cx="323.8" cy="473.8" r="3.84"/><circle cx="325.0" cy="477.3" r="3.84"/><circle cx="326.5" cy="480.6" r="3.95"/><circle cx="328.6" cy="483.6" r="3.95"/><circle cx="331.0" cy="486.6" r="3.95"/><circle cx="333.6" cy="489.8" r="3.95"/><circle cx="335.4" cy="491.9" r="3.95"/><circle cx="338.2" cy="494.7" r="4.10"/><circle cx="341.9" cy="497.2" r="4.10"/><circle cx="344.0" cy="499.5" r="3.91"/><circle cx="345.6" cy="502.0" r="3.91"/><circle cx="347.3" cy="504.2" r="4.05"/><circle cx="350.7" cy="506.7" r="4.05"/><circle cx="353.7" cy="509.6" r="4.05"/><circle cx="357.2" cy="511.3" r="4.19"/><circle cx="361.3" cy="511.3" r="4.19"/><circle cx="364.6" cy="511.6" r="4.14"/><circle cx="368.1" cy="513.2" r="4.14"/><circle cx="371.0" cy="515.6" r="4.14"/><circle cx="373.4" cy="517.7" r="3.92"/><circle cx="375.3" cy="520.6" r="3.83"/><circle cx="376.4" cy="524.7" r="3.83"/><circle cx="377.3" cy="527.6" r="3.83"/><circle cx="378.2" cy="531.0" r="3.83"/><circle cx="379.4" cy="533.6" r="4.07"/><circle cx="382.7" cy="531.1" r="4.07"/><circle cx="385.0" cy="529.5" r="4.07"/><circle cx="388.0" cy="526.6" r="3.89"/><circle cx="389.8" cy="523.6" r="3.89"/><circle cx="391.6" cy="520.3" r="3.89"/><circle cx="394.4" cy="520.2" r="4.12"/><circle cx="397.4" cy="522.6" r="4.12"/><circle cx="400.9" cy="521.6" r="4.12"/><circle cx="403.5" cy="519.5" r="3.81"/><circle cx="404.3" cy="515.4" r="3.81"/><circle cx="405.0" cy="511.8" r="3.81"/><circle cx="405.5" cy="508.6" r="3.81"/><circle cx="406.3" cy="504.6" r="3.81"/><circle cx="407.1" cy="500.4" r="3.81"/><circle cx="407.8" cy="496.4" r="3.81"/><circle cx="408.6" cy="492.5" r="3.82"/><circle cx="409.5" cy="488.5" r="3.82"/><circle cx="410.4" cy="484.7" r="3.82"/><circle cx="411.2" cy="481.3" r="3.82"/><circle cx="412.0" cy="477.7" r="3.82"/><circle cx="412.9" cy="473.6" r="3.82"/><circle cx="415.0" cy="470.3" r="3.92"/><circle cx="417.1" cy="467.0" r="3.92"/><circle cx="418.7" cy="463.6" r="3.84"/><circle cx="419.8" cy="459.9" r="3.84"/><circle cx="421.1" cy="455.9" r="3.84"/><circle cx="422.1" cy="452.6" r="3.84"/><circle cx="423.1" cy="449.6" r="3.84"/><circle cx="425.3" cy="446.4" r="3.96"/><circle cx="427.4" cy="443.5" r="3.96"/><circle cx="429.7" cy="440.7" r="3.96"/><circle cx="433.0" cy="437.5" r="4.09"/><circle cx="435.7" cy="436.4" r="4.09"/><circle cx="438.7" cy="435.5" r="4.17"/><circle cx="442.5" cy="436.2" r="4.17"/><circle cx="444.5" cy="438.6" r="3.88"/><circle cx="446.0" cy="441.3" r="3.88"/><circle cx="447.3" cy="444.1" r="3.88"/><circle cx="448.4" cy="447.3" r="3.83"/><circle cx="449.6" cy="451.6" r="3.83"/><circle cx="451.0" cy="455.3" r="3.94"/><circle cx="452.8" cy="457.9" r="3.94"/><circle cx="454.5" cy="460.0" r="3.94"/><circle cx="457.0" cy="463.6" r="3.94"/><circle cx="459.2" cy="466.8" r="3.92"/><circle cx="461.3" cy="469.5" r="3.92"/><circle cx="463.6" cy="473.0" r="3.92"/><circle cx="465.6" cy="476.1" r="3.93"/><circle cx="467.7" cy="479.0" r="3.93"/><circle cx="469.5" cy="482.0" r="3.93"/><circle cx="471.5" cy="484.7" r="3.93"/><circle cx="473.6" cy="487.3" r="3.93"/><circle cx="474.9" cy="490.5" r="3.83"/><circle cx="476.1" cy="494.4" r="3.83"/><circle cx="477.4" cy="497.7" r="4.02"/><circle cx="480.6" cy="500.0" r="4.02"/><circle cx="483.3" cy="502.5" r="4.02"/><circle cx="485.8" cy="505.0" r="3.92"/><circle cx="488.0" cy="508.5" r="3.92"/><circle cx="490.3" cy="510.4" r="4.19"/><circle cx="493.5" cy="510.8" r="4.19"/><circle cx="495.7" cy="513.0" r="3.86"/><circle cx="497.3" cy="516.8" r="3.86"/><circle cx="498.9" cy="520.3" r="3.86"/><circle cx="500.2" cy="523.4" r="3.86"/><circle cx="503.6" cy="525.1" r="4.15"/><circle cx="507.1" cy="525.8" r="4.09"/><circle cx="510.5" cy="528.5" r="4.09"/><circle cx="513.7" cy="529.2" r="4.20"/><circle cx="517.1" cy="529.2" r="4.20"/><circle cx="519.3" cy="531.4" r="3.94"/><circle cx="521.5" cy="534.6" r="3.94"/><circle cx="524.2" cy="536.2" r="4.18"/><circle cx="528.3" cy="538.4" r="4.18"/><circle cx="532.3" cy="538.6" r="4.18"/><circle cx="536.4" cy="538.3" r="4.20"/><circle cx="540.4" cy="538.6" r="4.20"/><circle cx="543.7" cy="538.4" r="4.20"/><circle cx="547.7" cy="539.9" r="4.20"/><circle cx="551.8" cy="539.8" r="4.20"/><circle cx="554.9" cy="539.7" r="4.20"/><circle cx="558.0" cy="540.6" r="4.18"/><circle cx="561.0" cy="540.7" r="4.18"/><circle cx="564.8" cy="542.3" r="4.18"/><circle cx="568.6" cy="543.0" r="4.18"/><circle cx="571.9" cy="543.2" r="4.18"/><circle cx="574.8" cy="542.5" r="4.14"/><circle cx="577.5" cy="541.1" r="4.14"/><circle cx="580.7" cy="540.2" r="4.20"/><circle cx="583.6" cy="539.8" r="4.20"/><circle cx="587.1" cy="540.7" r="4.20"/><circle cx="590.9" cy="539.9" r="4.12"/><circle cx="594.5" cy="538.5" r="4.12"/><circle cx="598.0" cy="536.4" r="4.12"/><circle cx="601.2" cy="535.6" r="4.18"/><circle cx="604.1" cy="535.0" r="4.18"/><circle cx="606.7" cy="533.8" r="3.95"/><circle cx="609.0" cy="530.7" r="3.95"/><circle cx="611.1" cy="527.6" r="3.95"/><circle cx="613.6" cy="524.9" r="4.12"/><circle cx="616.7" cy="524.4" r="4.12"/><circle cx="619.4" cy="521.8" r="3.89"/><circle cx="621.3" cy="518.2" r="3.89"/><circle cx="623.1" cy="514.5" r="3.89"/><circle cx="625.5" cy="515.9" r="4.07"/><circle cx="628.1" cy="518.0" r="4.07"/><circle cx="630.5" cy="517.3" r="4.07"/><circle cx="633.8" cy="515.3" r="4.07"/><circle cx="636.2" cy="512.8" r="4.07"/><circle cx="639.7" cy="510.4" r="4.14"/><circle cx="643.4" cy="510.1" r="4.14"/><circle cx="646.4" cy="508.5" r="4.14"/><circle cx="649.6" cy="509.2" r="4.08"/><circle cx="652.3" cy="510.4" r="4.08"/><circle cx="655.0" cy="510.4" r="4.07"/><circle cx="658.2" cy="508.3" r="4.07"/><circle cx="660.6" cy="506.4" r="4.07"/><circle cx="663.8" cy="505.0" r="4.07"/><circle cx="666.9" cy="504.4" r="4.09"/><circle cx="670.2" cy="506.1" r="4.09"/><circle cx="673.3" cy="504.8" r="4.08"/><circle cx="676.8" cy="502.2" r="4.08"/><circle cx="679.7" cy="500.1" r="4.08"/><circle cx="682.5" cy="498.0" r="4.05"/><circle cx="685.7" cy="496.3" r="4.05"/><circle cx="688.9" cy="493.6" r="4.05"/><circle cx="691.4" cy="493.3" r="3.99"/><circle cx="694.1" cy="495.4" r="4.07"/><circle cx="696.9" cy="493.1" r="4.07"/><circle cx="699.5" cy="490.9" r="4.07"/><circle cx="703.0" cy="488.9" r="4.07"/><circle cx="706.5" cy="489.9" r="4.18"/><circle cx="709.5" cy="489.8" r="4.18"/><circle cx="712.9" cy="490.3" r="4.18"/><circle cx="716.2" cy="490.4" r="4.04"/><circle cx="719.5" cy="487.8" r="4.04"/><circle cx="722.1" cy="485.7" r="4.04"/><circle cx="725.0" cy="482.9" r="4.04"/><circle cx="728.5" cy="484.1" r="4.09"/><circle cx="732.1" cy="486.3" r="4.12"/><circle cx="735.5" cy="484.0" r="4.12"/><circle cx="738.1" cy="483.7" r="4.04"/><circle cx="740.4" cy="485.7" r="4.04"/><circle cx="743.5" cy="487.6" r="4.04"/><circle cx="746.5" cy="489.4" r="4.20"/><circle cx="750.6" cy="490.2" r="4.20"/><circle cx="754.4" cy="489.2" r="3.90"/><circle cx="756.6" cy="485.5" r="3.90"/><circle cx="758.8" cy="482.6" r="4.00"/><circle cx="761.4" cy="480.4" r="4.00"/><circle cx="763.5" cy="478.3" r="4.00"/><circle cx="765.8" cy="481.4" r="3.92"/><circle cx="767.4" cy="483.5" r="3.92"/><circle cx="770.0" cy="487.0" r="3.97"/><circle cx="772.2" cy="489.6" r="3.97"/><circle cx="774.8" cy="492.7" r="3.97"/><circle cx="776.0" cy="495.2" r="3.84"/><circle cx="777.0" cy="498.2" r="3.84"/><circle cx="778.1" cy="501.4" r="3.84"/><circle cx="780.0" cy="502.7" r="4.12"/><circle cx="782.8" cy="501.8" r="4.12"/><circle cx="785.3" cy="503.7" r="3.92"/><circle cx="787.1" cy="506.5" r="3.92"/><circle cx="789.1" cy="509.8" r="3.92"/><circle cx="791.1" cy="512.6" r="3.92"/><circle cx="793.3" cy="516.3" r="3.92"/><circle cx="795.5" cy="519.5" r="3.92"/><circle cx="797.4" cy="522.1" r="3.92"/><circle cx="800.1" cy="524.8" r="4.04"/><circle cx="803.0" cy="527.2" r="4.04"/><circle cx="804.9" cy="529.4" r="3.91"/><circle cx="806.8" cy="532.3" r="3.91"/><circle cx="808.7" cy="535.5" r="3.91"/><circle cx="811.1" cy="538.2" r="4.00"/><circle cx="813.4" cy="540.4" r="4.00"/><circle cx="815.5" cy="543.3" r="4.00"/><circle cx="818.3" cy="546.0" r="4.00"/><circle cx="820.5" cy="547.7" r="4.00"/><circle cx="822.9" cy="549.9" r="4.00"/><circle cx="825.6" cy="553.4" r="4.00"/><circle cx="827.9" cy="551.2" r="3.97"/><circle cx="830.2" cy="548.5" r="3.97"/><circle cx="832.4" cy="546.5" r="3.97"/><circle cx="834.7" cy="543.1" r="3.84"/><circle cx="835.7" cy="540.5" r="3.84"/><circle cx="836.7" cy="537.6" r="3.84"/><circle cx="838.1" cy="533.5" r="3.84"/><circle cx="839.4" cy="529.9" r="3.84"/><circle cx="840.6" cy="526.8" r="3.84"/><circle cx="842.7" cy="523.3" r="4.12"/><circle cx="846.5" cy="521.4" r="4.12"/><circle cx="849.1" cy="519.4" r="3.87"/><circle cx="850.7" cy="515.8" r="3.87"/><circle cx="852.1" cy="513.1" r="3.87"/><circle cx="853.5" cy="509.9" r="3.87"/><circle cx="855.0" cy="506.9" r="3.87"/><circle cx="856.4" cy="503.9" r="3.87"/><circle cx="858.1" cy="500.2" r="3.91"/><circle cx="860.3" cy="496.8" r="3.91"/><circle cx="862.2" cy="493.6" r="3.91"/><circle cx="863.9" cy="490.6" r="3.81"/><circle cx="864.4" cy="487.5" r="3.81"/><circle cx="864.9" cy="484.0" r="3.81"/><circle cx="865.5" cy="480.0" r="3.81"/><circle cx="865.9" cy="476.9" r="3.81"/><circle cx="866.4" cy="472.7" r="3.80"/><circle cx="866.7" cy="469.0" r="3.80"/><circle cx="866.9" cy="465.6" r="3.80"/><circle cx="867.1" cy="462.3" r="3.80"/><circle cx="867.3" cy="458.5" r="3.80"/><circle cx="867.6" cy="454.6" r="3.80"/><circle cx="867.8" cy="451.5" r="3.80"/><circle cx="868.0" cy="447.5" r="3.80"/><circle cx="868.2" cy="444.4" r="3.80"/><circle cx="868.5" cy="440.8" r="3.80"/><circle cx="868.6" cy="436.7" r="3.80"/><circle cx="868.6" cy="433.4" r="3.80"/><circle cx="868.6" cy="430.4" r="3.80"/><circle cx="868.6" cy="426.7" r="3.80"/><circle cx="868.6" cy="422.4" r="3.80"/><circle cx="868.6" cy="418.9" r="3.80"/><circle cx="868.6" cy="415.2" r="3.80"/><circle cx="868.6" cy="411.7" r="3.80"/><circle cx="868.6" cy="408.0" r="3.80"/><circle cx="868.6" cy="403.7" r="3.80"/></g>
<rect x="127.5" y="55.2" width="770.5" height="631.8" fill="none" stroke="#000" stroke-width="2.6"/>
<rect x="157.2" y="685.6" width="3.6" height="2.8" fill="#cfcfcf"/>
<line x1="115.0" y1="687.0" x2="127.5" y2="687.0" stroke="#000" stroke-width="2.4"/>
<line x1="121.0" y1="596.8" x2="127.5" y2="596.8" stroke="#000" stroke-width="2.4"/>
<line x1="115.0" y1="506.5" x2="127.5" y2="506.5" stroke="#000" stroke-width="2.4"/>
<line x1="121.0" y1="416.2" x2="127.5" y2="416.2" stroke="#000" stroke-width="2.4"/>
<line x1="115.0" y1="326.0" x2="127.5" y2="326.0" stroke="#000" stroke-width="2.4"/>
<line x1="121.0" y1="235.8" x2="127.5" y2="235.8" stroke="#000" stroke-width="2.4"/>
<line x1="115.0" y1="145.5" x2="127.5" y2="145.5" stroke="#000" stroke-width="2.4"/>
<line x1="121.0" y1="55.2" x2="127.5" y2="55.2" stroke="#000" stroke-width="2.4"/>
<text x="105.5" y="694.8" text-anchor="end" class="tl">0.0</text>
<text x="105.5" y="514.3" text-anchor="end" class="tl">0.5</text>
<text x="105.5" y="333.8" text-anchor="end" class="tl">1.0</text>
<text x="105.5" y="153.3" text-anchor="end" class="tl">1.5</text>
<line x1="157.0" y1="687.0" x2="157.0" y2="699.5" stroke="#000" stroke-width="2.4"/>
<text x="157.0" y="728.8" text-anchor="middle" class="tl">00:00</text>
<line x1="216.3" y1="687.0" x2="216.3" y2="693.5" stroke="#000" stroke-width="2.4"/>
<line x1="275.5" y1="687.0" x2="275.5" y2="699.5" stroke="#000" stroke-width="2.4"/>
<text x="275.5" y="728.8" text-anchor="middle" class="tl">00:10</text>
<line x1="334.8" y1="687.0" x2="334.8" y2="693.5" stroke="#000" stroke-width="2.4"/>
<line x1="394.1" y1="687.0" x2="394.1" y2="699.5" stroke="#000" stroke-width="2.4"/>
<text x="394.1" y="728.8" text-anchor="middle" class="tl">00:20</text>
<line x1="453.3" y1="687.0" x2="453.3" y2="693.5" stroke="#000" stroke-width="2.4"/>
<line x1="512.6" y1="687.0" x2="512.6" y2="699.5" stroke="#000" stroke-width="2.4"/>
<text x="512.6" y="728.8" text-anchor="middle" class="tl">00:30</text>
<line x1="571.9" y1="687.0" x2="571.9" y2="693.5" stroke="#000" stroke-width="2.4"/>
<line x1="631.1" y1="687.0" x2="631.1" y2="699.5" stroke="#000" stroke-width="2.4"/>
<text x="631.1" y="728.8" text-anchor="middle" class="tl">00:40</text>
<line x1="690.4" y1="687.0" x2="690.4" y2="693.5" stroke="#000" stroke-width="2.4"/>
<line x1="749.6" y1="687.0" x2="749.6" y2="699.5" stroke="#000" stroke-width="2.4"/>
<text x="749.6" y="728.8" text-anchor="middle" class="tl">00:50</text>
<line x1="808.9" y1="687.0" x2="808.9" y2="693.5" stroke="#000" stroke-width="2.4"/>
<line x1="868.2" y1="687.0" x2="868.2" y2="699.5" stroke="#000" stroke-width="2.4"/>
<text x="868.2" y="728.8" text-anchor="middle" class="tl">01:00</text>
<text x="140.0" y="44.6" class="top">Idle</text>
<text x="243.0" y="44.6" class="top">50 km/h</text>
<text x="417.5" y="44.6" class="top">100 km/h</text>
<text x="603.0" y="44.6" class="top">80 km/h</text>
<text x="799.5" y="44.6" class="top">Idle</text>
<text x="136.5" y="96" class="pl">(a)</text>
<text x="410" y="780" class="ti">Time (hh:mm)</text>
<g transform="translate(48.7,568) rotate(-90)"><text x="0" y="0" class="ti">ROS<tspan font-size="22" dy="9">M</tspan><tspan dy="-9">(H</tspan><tspan font-size="22" dy="9"> 2</tspan><tspan dy="-9">O</tspan><tspan font-size="22" dy="9">2</tspan><tspan dy="-9" xml:space="preserve">eq. nmol  μg</tspan><tspan font-size="20" dy="-13">-1</tspan><tspan dy="13">)</tspan></text></g>
<polygon points="1129.1,502.3 1130.2,499.2 1131.4,495.9 1132.5,492.7 1133.7,489.5 1134.8,486.5 1136.0,483.3 1137.1,480.1 1139.1,484.2 1141.7,482.0 1144.2,480.1 1148.2,478.0 1152.2,476.1 1154.2,473.0 1156.2,470.0 1157.7,466.6 1159.2,463.3 1160.8,460.1 1162.3,456.9 1163.3,453.2 1164.3,449.5 1165.3,445.8 1166.6,442.6 1167.9,439.5 1169.2,436.2 1170.4,433.2 1171.7,429.9 1173.0,427.0 1174.3,423.7 1174.8,420.6 1175.3,417.5 1175.8,414.4 1176.3,411.3 1176.8,408.2 1177.3,405.1 1177.9,402.0 1178.4,398.8 1178.9,395.7 1179.4,392.6 1179.9,389.5 1180.4,386.4 1181.1,383.4 1181.7,380.4 1182.4,377.4 1183.6,374.6 1184.8,371.9 1186.0,369.0 1187.2,366.1 1188.4,363.3 1189.7,360.2 1191.0,357.3 1192.2,354.2 1193.5,351.2 1194.2,354.5 1195.0,357.8 1195.8,361.0 1196.5,364.3 1197.2,367.6 1197.9,370.9 1198.6,374.2 1199.4,377.5 1200.1,380.8 1200.8,384.1 1201.5,387.4 1203.9,384.1 1206.2,381.5 1208.6,378.4 1212.6,378.4 1214.3,375.5 1216.1,372.4 1217.8,369.3 1219.6,366.3 1220.1,363.0 1220.6,359.7 1221.1,356.5 1221.7,353.2 1222.2,349.9 1222.7,346.7 1223.2,343.4 1223.7,340.1 1225.7,336.7 1227.7,333.1 1231.7,334.1 1233.4,331.5 1235.1,329.1 1236.2,332.1 1237.4,335.0 1238.5,338.1 1239.7,341.1 1240.8,344.2 1243.2,341.1 1243.8,344.3 1244.3,347.4 1244.9,350.6 1245.5,353.8 1246.1,357.0 1246.6,360.1 1247.2,363.3 1248.5,360.3 1249.8,357.2 1250.4,360.6 1251.0,364.0 1251.7,367.5 1252.3,370.9 1252.9,374.3 1254.9,377.1 1256.9,379.6 1258.9,382.4 1260.2,386.0 1261.4,389.4 1262.7,392.9 1263.9,396.5 1266.9,398.5 1267.8,401.6 1268.7,404.5 1269.7,407.5 1270.6,410.6 1271.5,413.6 1272.4,416.6 1273.3,419.7 1274.2,422.6 1275.2,425.7 1276.1,428.7 1277.0,431.7 1281.0,428.7 1282.3,432.2 1283.5,435.8 1284.8,439.3 1286.1,442.8 1287.6,446.3 1289.1,449.8 1291.4,452.1 1293.8,453.4 1296.1,455.9 1297.9,458.8 1299.7,462.1 1301.4,465.0 1303.2,468.1 1305.2,470.4 1307.2,472.6 1309.2,475.1 1310.5,478.5 1311.9,481.8 1313.2,485.2 1315.9,487.4 1318.6,489.7 1321.3,492.2 1323.5,494.6 1325.8,497.5 1328.0,499.7 1330.3,502.3 1332.8,499.6 1335.4,497.2 1337.4,499.9 1339.4,502.1 1341.5,504.8 1343.5,507.0 1345.5,509.9 1347.5,512.3 1351.5,513.3 1355.5,515.4 1357.3,517.9 1359.2,520.4 1361.0,522.9 1362.9,525.3 1364.8,527.8 1366.6,530.5 1370.1,529.0 1373.6,526.4 1375.0,523.8 1376.5,520.9 1377.9,518.1 1379.4,515.6 1380.8,512.8 1382.3,509.9 1383.7,507.3 1385.3,504.1 1386.9,500.9 1388.5,497.6 1390.1,494.5 1391.7,491.2 1393.0,488.3 1394.4,485.5 1395.8,482.7 1397.1,479.8 1398.5,476.9 1399.8,474.1 1402.1,470.9 1404.5,467.9 1406.8,464.9 1408.5,462.4 1410.2,459.4 1411.9,456.9 1415.9,460.9 1420.9,462.9 1423.0,459.9 1425.0,456.9 1426.5,460.3 1428.0,463.4 1429.5,466.8 1431.0,470.1 1433.2,473.0 1435.5,475.2 1437.8,477.3 1440.0,480.1 1441.5,484.2 1443.1,488.2 1446.1,487.4 1449.1,487.1 1452.1,487.2 1454.1,490.3 1456.1,492.8 1458.2,495.5 1460.2,498.4 1462.2,501.3 1464.6,503.3 1467.0,504.4 1469.5,506.3 1471.9,508.0 1474.3,510.3 1478.3,511.5 1482.3,513.3 1486.2,514.5 1490.0,516.5 1493.0,517.7 1496.1,519.9 1499.1,521.5 1502.8,521.2 1506.4,521.8 1510.1,522.5 1513.6,523.3 1517.2,523.3 1520.7,523.6 1524.2,524.5 1527.2,523.7 1530.3,522.5 1533.3,522.8 1536.3,523.8 1539.3,525.5 1541.8,523.6 1544.3,522.1 1547.3,523.9 1550.4,525.0 1553.4,523.8 1556.4,521.5 1559.4,520.5 1562.5,521.7 1565.5,523.5 1568.0,525.9 1570.5,527.6 1573.0,525.3 1575.5,522.5 1578.8,522.8 1582.0,522.6 1585.3,522.6 1588.6,523.5 1591.6,523.2 1594.7,521.6 1597.7,521.2 1600.7,520.5 1604.0,520.7 1607.4,520.2 1610.8,519.7 1614.1,518.8 1617.5,517.5 1620.8,517.5 1623.8,516.1 1626.9,515.7 1629.9,515.8 1632.9,515.0 1636.0,514.0 1639.0,513.5 1642.2,513.2 1645.3,514.0 1648.5,513.7 1651.6,512.6 1654.8,512.9 1657.9,512.4 1661.1,512.5 1664.6,511.3 1668.2,511.1 1671.7,510.6 1675.2,509.4 1678.4,509.3 1681.6,509.0 1684.9,508.1 1688.1,508.3 1691.3,507.4 1694.3,505.6 1697.3,504.2 1700.4,501.5 1703.4,500.0 1706.7,500.6 1710.1,501.6 1713.4,502.4 1716.1,504.9 1718.8,507.6 1721.5,510.5 1724.5,509.6 1727.5,509.9 1730.6,509.0 1733.6,509.4 1735.2,506.4 1736.8,503.2 1738.4,500.4 1740.0,497.3 1741.6,494.3 1743.6,491.9 1745.7,488.8 1747.7,486.3 1749.7,491.3 1751.7,487.8 1753.7,483.9 1757.7,485.8 1761.7,486.3 1762.7,489.4 1763.8,492.3 1764.8,495.4 1765.8,498.4 1768.3,501.5 1770.8,504.4 1772.5,507.7 1774.3,510.9 1776.0,514.2 1777.8,517.5 1780.2,519.4 1782.5,521.7 1784.8,523.8 1787.2,526.1 1789.6,528.4 1791.9,530.6 1795.3,529.2 1798.6,526.8 1802.0,525.5 1803.6,522.5 1805.2,519.4 1806.8,516.5 1808.4,513.4 1810.0,510.5 1810.5,507.4 1811.0,504.3 1811.5,501.2 1812.0,498.2 1812.5,495.0 1813.0,492.0 1813.5,488.9 1814.0,485.8 1814.5,482.7 1814.7,486.0 1814.9,489.3 1815.2,492.6 1815.4,495.9 1815.6,499.3 1815.8,502.6 1816.1,505.9 1816.3,509.2 1816.5,512.5 1819.0,509.5 1821.6,506.4 1824.1,503.4 1826.1,501.3 1828.2,499.1 1830.2,496.7 1832.2,494.3 1834.2,490.9 1836.2,487.7 1838.2,484.3 1838.4,487.3 1838.6,490.3 1838.8,493.4 1839.0,496.4 1839.2,499.4 1839.4,502.4 1839.6,505.4 1839.8,508.4 1840.0,511.4 1840.2,514.5 1840.4,517.5 1840.6,520.5 1841.3,635.5 1840.5,632.0 1839.8,628.4 1839.0,624.9 1838.2,621.4 1835.2,624.1 1832.2,627.4 1828.2,628.9 1824.1,629.4 1821.8,626.4 1819.4,623.5 1817.1,620.4 1814.5,624.4 1813.0,621.1 1811.5,617.6 1810.0,614.3 1808.0,617.1 1806.0,619.5 1804.0,621.7 1802.0,624.5 1800.0,626.9 1798.0,629.4 1795.0,628.5 1791.9,628.4 1789.9,625.7 1787.9,622.8 1785.9,620.2 1783.9,617.6 1781.9,615.2 1779.9,612.3 1778.9,609.5 1777.9,606.5 1776.9,603.6 1775.9,600.7 1774.8,597.7 1773.8,594.7 1772.8,591.9 1771.8,589.0 1770.8,586.0 1769.8,583.1 1767.8,580.7 1765.8,578.0 1763.7,575.2 1761.7,573.0 1759.7,570.1 1755.7,569.1 1752.2,570.4 1748.7,570.9 1745.1,570.8 1741.6,572.1 1738.6,574.2 1735.5,576.1 1732.5,577.4 1729.5,579.1 1726.8,581.6 1724.2,584.1 1721.5,586.2 1718.1,585.7 1714.8,585.6 1711.4,585.2 1708.1,585.3 1704.7,586.8 1701.3,587.9 1698.0,587.5 1694.7,587.8 1691.3,589.2 1688.3,589.8 1685.2,589.7 1682.2,589.7 1679.2,590.2 1676.0,590.1 1672.9,590.0 1669.7,590.8 1666.6,591.3 1663.4,591.6 1660.3,591.6 1657.1,592.2 1653.6,593.0 1650.0,593.5 1646.5,594.5 1643.0,596.2 1639.8,597.4 1636.6,598.4 1633.3,599.9 1630.1,600.3 1626.9,601.3 1623.9,602.1 1620.9,603.1 1617.8,603.1 1614.8,604.3 1611.8,605.3 1608.8,605.9 1605.7,606.7 1602.7,607.3 1599.5,608.5 1596.4,609.3 1593.2,610.3 1590.1,611.2 1586.9,611.3 1583.8,613.1 1580.6,613.3 1576.6,616.4 1573.2,617.7 1569.9,618.2 1566.5,619.4 1563.3,621.1 1560.2,621.3 1557.0,623.4 1553.8,624.6 1550.6,624.9 1547.5,626.2 1544.3,627.4 1541.3,629.7 1538.3,632.5 1535.3,633.0 1532.3,634.6 1529.2,636.5 1526.2,636.8 1523.2,637.9 1520.2,639.5 1517.2,640.9 1514.2,642.1 1511.2,643.4 1508.1,644.3 1505.1,646.8 1502.1,647.6 1498.9,648.7 1495.6,650.7 1492.4,651.6 1488.9,652.4 1485.3,651.9 1481.8,652.5 1478.3,653.6 1475.3,655.1 1472.2,655.5 1469.2,656.4 1466.2,656.6 1462.5,657.8 1458.8,658.8 1455.1,660.6 1451.8,659.9 1448.6,660.3 1445.3,659.8 1442.1,658.6 1439.4,657.6 1436.7,655.5 1434.0,654.6 1430.0,654.4 1426.0,654.6 1422.6,653.0 1419.3,651.4 1415.9,650.6 1411.9,652.6 1409.7,649.5 1407.4,646.2 1404.8,648.6 1401.1,649.5 1397.5,648.5 1393.8,649.6 1390.8,651.7 1387.7,653.6 1385.7,655.9 1383.7,658.5 1381.7,660.7 1379.7,662.7 1376.3,664.3 1373.0,666.0 1369.6,666.7 1368.4,663.8 1367.2,660.7 1366.0,657.7 1364.8,654.5 1363.6,651.6 1361.1,649.3 1358.5,647.2 1356.0,644.7 1353.5,642.5 1350.5,640.6 1347.5,639.2 1344.4,638.0 1341.4,636.5 1338.6,634.2 1335.8,632.0 1332.9,629.7 1330.1,627.7 1327.3,625.4 1325.0,622.7 1322.6,620.2 1320.2,618.2 1317.9,615.4 1315.5,612.5 1313.2,610.3 1311.2,607.7 1309.2,604.5 1307.2,602.1 1305.2,599.2 1303.2,596.5 1301.2,593.5 1299.0,591.0 1296.7,588.8 1294.5,586.7 1292.2,584.8 1290.0,582.4 1287.7,580.6 1285.5,578.5 1283.2,576.4 1281.0,574.1 1278.3,572.0 1275.7,570.1 1273.0,568.7 1270.5,567.1 1268.0,564.2 1265.4,562.5 1262.9,560.6 1259.6,561.0 1256.2,560.2 1252.9,560.6 1251.9,557.8 1250.9,554.9 1249.8,552.0 1248.8,549.2 1247.8,546.3 1246.8,543.5 1242.8,543.7 1238.8,542.5 1235.8,543.7 1232.8,545.3 1229.7,546.9 1226.7,547.6 1224.7,550.3 1222.7,552.7 1220.7,555.1 1218.6,557.7 1216.6,560.2 1214.6,562.7 1213.6,565.7 1212.6,568.9 1211.6,572.0 1210.6,575.0 1209.6,578.3 1208.6,581.3 1207.6,584.4 1206.6,587.5 1204.6,590.0 1202.5,592.3 1200.5,594.9 1195.5,594.9 1194.6,591.7 1193.8,588.5 1192.9,585.4 1192.0,582.3 1191.1,579.1 1190.3,575.8 1189.4,572.7 1188.6,569.5 1187.7,566.3 1186.9,563.1 1186.1,560.0 1185.2,556.8 1184.4,553.6 1183.8,556.7 1183.2,559.7 1182.5,562.7 1181.9,565.8 1181.3,568.9 1180.7,571.9 1180.0,575.0 1179.4,578.0 1178.4,580.9 1177.4,583.8 1176.4,586.6 1175.3,589.6 1174.3,592.5 1173.3,595.3 1172.3,598.2 1171.3,601.0 1170.3,604.0 1169.3,606.9 1168.3,609.9 1167.3,612.8 1166.3,615.6 1165.3,618.5 1164.3,621.5 1163.3,624.4 1162.6,627.4 1161.8,630.3 1161.1,633.3 1160.4,636.2 1159.7,639.2 1159.0,642.1 1158.2,645.0 1157.5,648.0 1156.5,651.1 1155.5,654.4 1154.5,657.5 1153.5,660.6 1152.0,663.3 1150.4,666.3 1148.8,668.9 1147.3,671.7 1144.7,674.3 1142.1,676.7 1139.1,680.4 1137.6,677.1 1136.1,673.7 1133.1,670.7 1131.8,674.0 1130.4,677.4 1129.1,680.8" fill="#d3d3d3" stroke="none"/>
<line x1="1188.3" y1="55.2" x2="1188.3" y2="687.0" stroke="#8a8a8a" stroke-width="1.4"/>
<line x1="1366.1" y1="55.2" x2="1366.1" y2="687.0" stroke="#8a8a8a" stroke-width="1.4"/>
<line x1="1543.9" y1="55.2" x2="1543.9" y2="687.0" stroke="#8a8a8a" stroke-width="1.4"/>
<line x1="1721.7" y1="55.2" x2="1721.7" y2="687.0" stroke="#8a8a8a" stroke-width="1.4"/>
<polyline points="1129.1,502.3 1130.2,499.2 1131.4,495.9 1132.5,492.7 1133.7,489.5 1134.8,486.5 1136.0,483.3 1137.1,480.1 1139.1,484.2 1141.7,482.0 1144.2,480.1 1148.2,478.0 1152.2,476.1 1154.2,473.0 1156.2,470.0 1157.7,466.6 1159.2,463.3 1160.8,460.1 1162.3,456.9 1163.3,453.2 1164.3,449.5 1165.3,445.8 1166.6,442.6 1167.9,439.5 1169.2,436.2 1170.4,433.2 1171.7,429.9 1173.0,427.0 1174.3,423.7 1174.8,420.6 1175.3,417.5 1175.8,414.4 1176.3,411.3 1176.8,408.2 1177.3,405.1 1177.9,402.0 1178.4,398.8 1178.9,395.7 1179.4,392.6 1179.9,389.5 1180.4,386.4 1181.1,383.4 1181.7,380.4 1182.4,377.4 1183.6,374.6 1184.8,371.9 1186.0,369.0 1187.2,366.1 1188.4,363.3 1189.7,360.2 1191.0,357.3 1192.2,354.2 1193.5,351.2 1194.2,354.5 1195.0,357.8 1195.8,361.0 1196.5,364.3 1197.2,367.6 1197.9,370.9 1198.6,374.2 1199.4,377.5 1200.1,380.8 1200.8,384.1 1201.5,387.4 1203.9,384.1 1206.2,381.5 1208.6,378.4 1212.6,378.4 1214.3,375.5 1216.1,372.4 1217.8,369.3 1219.6,366.3 1220.1,363.0 1220.6,359.7 1221.1,356.5 1221.7,353.2 1222.2,349.9 1222.7,346.7 1223.2,343.4 1223.7,340.1 1225.7,336.7 1227.7,333.1 1231.7,334.1 1233.4,331.5 1235.1,329.1 1236.2,332.1 1237.4,335.0 1238.5,338.1 1239.7,341.1 1240.8,344.2 1243.2,341.1 1243.8,344.3 1244.3,347.4 1244.9,350.6 1245.5,353.8 1246.1,357.0 1246.6,360.1 1247.2,363.3 1248.5,360.3 1249.8,357.2 1250.4,360.6 1251.0,364.0 1251.7,367.5 1252.3,370.9 1252.9,374.3 1254.9,377.1 1256.9,379.6 1258.9,382.4 1260.2,386.0 1261.4,389.4 1262.7,392.9 1263.9,396.5 1266.9,398.5 1267.8,401.6 1268.7,404.5 1269.7,407.5 1270.6,410.6 1271.5,413.6 1272.4,416.6 1273.3,419.7 1274.2,422.6 1275.2,425.7 1276.1,428.7 1277.0,431.7 1281.0,428.7 1282.3,432.2 1283.5,435.8 1284.8,439.3 1286.1,442.8 1287.6,446.3 1289.1,449.8 1291.4,452.1 1293.8,453.4 1296.1,455.9 1297.9,458.8 1299.7,462.1 1301.4,465.0 1303.2,468.1 1305.2,470.4 1307.2,472.6 1309.2,475.1 1310.5,478.5 1311.9,481.8 1313.2,485.2 1315.9,487.4 1318.6,489.7 1321.3,492.2 1323.5,494.6 1325.8,497.5 1328.0,499.7 1330.3,502.3 1332.8,499.6 1335.4,497.2 1337.4,499.9 1339.4,502.1 1341.5,504.8 1343.5,507.0 1345.5,509.9 1347.5,512.3 1351.5,513.3 1355.5,515.4 1357.3,517.9 1359.2,520.4 1361.0,522.9 1362.9,525.3 1364.8,527.8 1366.6,530.5 1370.1,529.0 1373.6,526.4 1375.0,523.8 1376.5,520.9 1377.9,518.1 1379.4,515.6 1380.8,512.8 1382.3,509.9 1383.7,507.3 1385.3,504.1 1386.9,500.9 1388.5,497.6 1390.1,494.5 1391.7,491.2 1393.0,488.3 1394.4,485.5 1395.8,482.7 1397.1,479.8 1398.5,476.9 1399.8,474.1 1402.1,470.9 1404.5,467.9 1406.8,464.9 1408.5,462.4 1410.2,459.4 1411.9,456.9 1415.9,460.9 1420.9,462.9 1423.0,459.9 1425.0,456.9 1426.5,460.3 1428.0,463.4 1429.5,466.8 1431.0,470.1 1433.2,473.0 1435.5,475.2 1437.8,477.3 1440.0,480.1 1441.5,484.2 1443.1,488.2 1446.1,487.4 1449.1,487.1 1452.1,487.2 1454.1,490.3 1456.1,492.8 1458.2,495.5 1460.2,498.4 1462.2,501.3 1464.6,503.3 1467.0,504.4 1469.5,506.3 1471.9,508.0 1474.3,510.3 1478.3,511.5 1482.3,513.3 1486.2,514.5 1490.0,516.5 1493.0,517.7 1496.1,519.9 1499.1,521.5 1502.8,521.2 1506.4,521.8 1510.1,522.5 1513.6,523.3 1517.2,523.3 1520.7,523.6 1524.2,524.5 1527.2,523.7 1530.3,522.5 1533.3,522.8 1536.3,523.8 1539.3,525.5 1541.8,523.6 1544.3,522.1 1547.3,523.9 1550.4,525.0 1553.4,523.8 1556.4,521.5 1559.4,520.5 1562.5,521.7 1565.5,523.5 1568.0,525.9 1570.5,527.6 1573.0,525.3 1575.5,522.5 1578.8,522.8 1582.0,522.6 1585.3,522.6 1588.6,523.5 1591.6,523.2 1594.7,521.6 1597.7,521.2 1600.7,520.5 1604.0,520.7 1607.4,520.2 1610.8,519.7 1614.1,518.8 1617.5,517.5 1620.8,517.5 1623.8,516.1 1626.9,515.7 1629.9,515.8 1632.9,515.0 1636.0,514.0 1639.0,513.5 1642.2,513.2 1645.3,514.0 1648.5,513.7 1651.6,512.6 1654.8,512.9 1657.9,512.4 1661.1,512.5 1664.6,511.3 1668.2,511.1 1671.7,510.6 1675.2,509.4 1678.4,509.3 1681.6,509.0 1684.9,508.1 1688.1,508.3 1691.3,507.4 1694.3,505.6 1697.3,504.2 1700.4,501.5 1703.4,500.0 1706.7,500.6 1710.1,501.6 1713.4,502.4 1716.1,504.9 1718.8,507.6 1721.5,510.5 1724.5,509.6 1727.5,509.9 1730.6,509.0 1733.6,509.4 1735.2,506.4 1736.8,503.2 1738.4,500.4 1740.0,497.3 1741.6,494.3 1743.6,491.9 1745.7,488.8 1747.7,486.3 1749.7,491.3 1751.7,487.8 1753.7,483.9 1757.7,485.8 1761.7,486.3 1762.7,489.4 1763.8,492.3 1764.8,495.4 1765.8,498.4 1768.3,501.5 1770.8,504.4 1772.5,507.7 1774.3,510.9 1776.0,514.2 1777.8,517.5 1780.2,519.4 1782.5,521.7 1784.8,523.8 1787.2,526.1 1789.6,528.4 1791.9,530.6 1795.3,529.2 1798.6,526.8 1802.0,525.5 1803.6,522.5 1805.2,519.4 1806.8,516.5 1808.4,513.4 1810.0,510.5 1810.5,507.4 1811.0,504.3 1811.5,501.2 1812.0,498.2 1812.5,495.0 1813.0,492.0 1813.5,488.9 1814.0,485.8 1814.5,482.7 1814.7,486.0 1814.9,489.3 1815.2,492.6 1815.4,495.9 1815.6,499.3 1815.8,502.6 1816.1,505.9 1816.3,509.2 1816.5,512.5 1819.0,509.5 1821.6,506.4 1824.1,503.4 1826.1,501.3 1828.2,499.1 1830.2,496.7 1832.2,494.3 1834.2,490.9 1836.2,487.7 1838.2,484.3 1838.4,487.3 1838.6,490.3 1838.8,493.4 1839.0,496.4 1839.2,499.4 1839.4,502.4 1839.6,505.4 1839.8,508.4 1840.0,511.4 1840.2,514.5 1840.4,517.5 1840.6,520.5" fill="none" stroke="#3c3c3c" stroke-width="1.2" stroke-linejoin="round"/>
<polyline points="1129.1,680.8 1130.4,677.4 1131.8,674.0 1133.1,670.7 1136.1,673.7 1137.6,677.1 1139.1,680.4 1142.1,676.7 1144.7,674.3 1147.3,671.7 1148.8,668.9 1150.4,666.3 1152.0,663.3 1153.5,660.6 1154.5,657.5 1155.5,654.4 1156.5,651.1 1157.5,648.0 1158.2,645.0 1159.0,642.1 1159.7,639.2 1160.4,636.2 1161.1,633.3 1161.8,630.3 1162.6,627.4 1163.3,624.4 1164.3,621.5 1165.3,618.5 1166.3,615.6 1167.3,612.8 1168.3,609.9 1169.3,606.9 1170.3,604.0 1171.3,601.0 1172.3,598.2 1173.3,595.3 1174.3,592.5 1175.3,589.6 1176.4,586.6 1177.4,583.8 1178.4,580.9 1179.4,578.0 1180.0,575.0 1180.7,571.9 1181.3,568.9 1181.9,565.8 1182.5,562.7 1183.2,559.7 1183.8,556.7 1184.4,553.6 1185.2,556.8 1186.1,560.0 1186.9,563.1 1187.7,566.3 1188.6,569.5 1189.4,572.7 1190.3,575.8 1191.1,579.1 1192.0,582.3 1192.9,585.4 1193.8,588.5 1194.6,591.7 1195.5,594.9 1200.5,594.9 1202.5,592.3 1204.6,590.0 1206.6,587.5 1207.6,584.4 1208.6,581.3 1209.6,578.3 1210.6,575.0 1211.6,572.0 1212.6,568.9 1213.6,565.7 1214.6,562.7 1216.6,560.2 1218.6,557.7 1220.7,555.1 1222.7,552.7 1224.7,550.3 1226.7,547.6 1229.7,546.9 1232.8,545.3 1235.8,543.7 1238.8,542.5 1242.8,543.7 1246.8,543.5 1247.8,546.3 1248.8,549.2 1249.8,552.0 1250.9,554.9 1251.9,557.8 1252.9,560.6 1256.2,560.2 1259.6,561.0 1262.9,560.6 1265.4,562.5 1268.0,564.2 1270.5,567.1 1273.0,568.7 1275.7,570.1 1278.3,572.0 1281.0,574.1 1283.2,576.4 1285.5,578.5 1287.7,580.6 1290.0,582.4 1292.2,584.8 1294.5,586.7 1296.7,588.8 1299.0,591.0 1301.2,593.5 1303.2,596.5 1305.2,599.2 1307.2,602.1 1309.2,604.5 1311.2,607.7 1313.2,610.3 1315.5,612.5 1317.9,615.4 1320.2,618.2 1322.6,620.2 1325.0,622.7 1327.3,625.4 1330.1,627.7 1332.9,629.7 1335.8,632.0 1338.6,634.2 1341.4,636.5 1344.4,638.0 1347.5,639.2 1350.5,640.6 1353.5,642.5 1356.0,644.7 1358.5,647.2 1361.1,649.3 1363.6,651.6 1364.8,654.5 1366.0,657.7 1367.2,660.7 1368.4,663.8 1369.6,666.7 1373.0,666.0 1376.3,664.3 1379.7,662.7 1381.7,660.7 1383.7,658.5 1385.7,655.9 1387.7,653.6 1390.8,651.7 1393.8,649.6 1397.5,648.5 1401.1,649.5 1404.8,648.6 1407.4,646.2 1409.7,649.5 1411.9,652.6 1415.9,650.6 1419.3,651.4 1422.6,653.0 1426.0,654.6 1430.0,654.4 1434.0,654.6 1436.7,655.5 1439.4,657.6 1442.1,658.6 1445.3,659.8 1448.6,660.3 1451.8,659.9 1455.1,660.6 1458.8,658.8 1462.5,657.8 1466.2,656.6 1469.2,656.4 1472.2,655.5 1475.3,655.1 1478.3,653.6 1481.8,652.5 1485.3,651.9 1488.9,652.4 1492.4,651.6 1495.6,650.7 1498.9,648.7 1502.1,647.6 1505.1,646.8 1508.1,644.3 1511.2,643.4 1514.2,642.1 1517.2,640.9 1520.2,639.5 1523.2,637.9 1526.2,636.8 1529.2,636.5 1532.3,634.6 1535.3,633.0 1538.3,632.5 1541.3,629.7 1544.3,627.4 1547.5,626.2 1550.6,624.9 1553.8,624.6 1557.0,623.4 1560.2,621.3 1563.3,621.1 1566.5,619.4 1569.9,618.2 1573.2,617.7 1576.6,616.4 1580.6,613.3 1583.8,613.1 1586.9,611.3 1590.1,611.2 1593.2,610.3 1596.4,609.3 1599.5,608.5 1602.7,607.3 1605.7,606.7 1608.8,605.9 1611.8,605.3 1614.8,604.3 1617.8,603.1 1620.9,603.1 1623.9,602.1 1626.9,601.3 1630.1,600.3 1633.3,599.9 1636.6,598.4 1639.8,597.4 1643.0,596.2 1646.5,594.5 1650.0,593.5 1653.6,593.0 1657.1,592.2 1660.3,591.6 1663.4,591.6 1666.6,591.3 1669.7,590.8 1672.9,590.0 1676.0,590.1 1679.2,590.2 1682.2,589.7 1685.2,589.7 1688.3,589.8 1691.3,589.2 1694.7,587.8 1698.0,587.5 1701.3,587.9 1704.7,586.8 1708.1,585.3 1711.4,585.2 1714.8,585.6 1718.1,585.7 1721.5,586.2 1724.2,584.1 1726.8,581.6 1729.5,579.1 1732.5,577.4 1735.5,576.1 1738.6,574.2 1741.6,572.1 1745.1,570.8 1748.7,570.9 1752.2,570.4 1755.7,569.1 1759.7,570.1 1761.7,573.0 1763.7,575.2 1765.8,578.0 1767.8,580.7 1769.8,583.1 1770.8,586.0 1771.8,589.0 1772.8,591.9 1773.8,594.7 1774.8,597.7 1775.9,600.7 1776.9,603.6 1777.9,606.5 1778.9,609.5 1779.9,612.3 1781.9,615.2 1783.9,617.6 1785.9,620.2 1787.9,622.8 1789.9,625.7 1791.9,628.4 1795.0,628.5 1798.0,629.4 1800.0,626.9 1802.0,624.5 1804.0,621.7 1806.0,619.5 1808.0,617.1 1810.0,614.3 1811.5,617.6 1813.0,621.1 1814.5,624.4 1817.1,620.4 1819.4,623.5 1821.8,626.4 1824.1,629.4 1828.2,628.9 1832.2,627.4 1835.2,624.1 1838.2,621.4 1839.0,624.9 1839.8,628.4 1840.5,632.0 1841.3,635.5" fill="none" stroke="#3c3c3c" stroke-width="1.2" stroke-linejoin="round"/>
<polyline points="1128.9,591.6 1132.3,579.3 1136.8,577.1 1140.1,582.7 1146.8,578.2 1153.6,570.4 1159.1,557.0 1163.6,541.3 1169.2,523.4 1175.9,505.5 1179.3,489.9 1181.5,469.7 1186.0,463.0 1193.8,474.2 1200.5,488.7 1206.1,485.4 1219.5,464.1 1221.8,451.8 1227.4,440.7 1234.1,438.4 1243.0,442.9 1248.6,453.0 1253.1,467.5 1258.7,473.1 1265.4,479.8 1276.6,499.9 1280.0,501.2 1284.5,507.9 1287.5,514.6 1294.9,521.3 1302.4,531.0 1304.6,537.7 1309.8,541.4 1314.3,549.6 1327.7,561.6 1331.4,564.5 1335.2,563.0 1345.6,575.0 1350.1,575.0 1362.0,585.4 1368.0,597.3 1378.4,592.9 1384.4,583.9 1396.3,564.5 1400.8,560.1 1408.2,553.4 1420.1,557.1 1425.4,555.6 1435.0,564.5 1443.2,571.2 1451.4,573.5 1461.9,579.4 1469.3,581.7 1481.3,583.9 1493.2,586.2 1503.6,584.7 1518.5,580.2 1530.3,579.5 1540.0,576.9 1548.5,574.4 1562.0,569.7 1569.6,573.1 1580.6,567.6 1604.3,564.7 1624.6,558.8 1641.5,554.5 1660.1,552.8 1680.4,548.2 1690.5,549.5 1700.9,543.9 1711.7,542.8 1721.5,548.7 1731.3,543.9 1742.2,533.0 1748.7,528.7 1755.2,526.5 1761.7,529.8 1770.4,543.9 1777.0,561.3 1785.7,574.3 1793.3,579.8 1800.9,576.5 1808.5,565.7 1814.3,553.7 1817.2,565.7 1824.8,566.7 1837.8,552.6 1840.0,577.6" fill="none" stroke="#000" stroke-width="7.6" stroke-linejoin="round" stroke-linecap="round"/>
<g fill="#000"><circle cx="1128.9" cy="591.7" r="3.83"/><circle cx="1129.9" cy="587.9" r="3.83"/><circle cx="1131.0" cy="584.2" r="3.83"/><circle cx="1132.1" cy="580.0" r="3.83"/><circle cx="1134.9" cy="578.0" r="4.12"/><circle cx="1137.4" cy="577.9" r="3.90"/><circle cx="1139.1" cy="580.9" r="3.90"/><circle cx="1141.2" cy="582.3" r="4.08"/><circle cx="1143.9" cy="579.7" r="4.08"/><circle cx="1146.7" cy="578.7" r="4.08"/><circle cx="1149.0" cy="575.6" r="3.97"/><circle cx="1151.6" cy="573.1" r="3.97"/><circle cx="1154.0" cy="569.4" r="3.86"/><circle cx="1155.6" cy="565.5" r="3.86"/><circle cx="1156.8" cy="562.7" r="3.86"/><circle cx="1157.9" cy="559.9" r="3.86"/><circle cx="1159.2" cy="556.8" r="3.83"/><circle cx="1160.2" cy="553.2" r="3.83"/><circle cx="1161.2" cy="549.6" r="3.83"/><circle cx="1162.4" cy="545.6" r="3.83"/><circle cx="1163.5" cy="541.5" r="3.83"/><circle cx="1164.8" cy="537.6" r="3.84"/><circle cx="1166.0" cy="533.6" r="3.84"/><circle cx="1166.9" cy="530.8" r="3.84"/><circle cx="1167.9" cy="527.7" r="3.84"/><circle cx="1169.0" cy="524.0" r="3.84"/><circle cx="1170.0" cy="521.2" r="3.85"/><circle cx="1171.0" cy="518.5" r="3.85"/><circle cx="1172.3" cy="515.3" r="3.85"/><circle cx="1173.3" cy="512.4" r="3.85"/><circle cx="1174.7" cy="508.8" r="3.85"/><circle cx="1175.9" cy="505.4" r="3.82"/><circle cx="1176.7" cy="501.9" r="3.82"/><circle cx="1177.4" cy="498.5" r="3.82"/><circle cx="1178.1" cy="495.4" r="3.82"/><circle cx="1178.9" cy="491.9" r="3.82"/><circle cx="1179.4" cy="488.9" r="3.80"/><circle cx="1179.9" cy="484.8" r="3.80"/><circle cx="1180.2" cy="481.3" r="3.80"/><circle cx="1180.7" cy="477.3" r="3.80"/><circle cx="1181.1" cy="473.7" r="3.80"/><circle cx="1181.5" cy="469.9" r="3.80"/><circle cx="1183.3" cy="466.7" r="3.92"/><circle cx="1185.2" cy="464.0" r="3.92"/><circle cx="1187.2" cy="464.5" r="3.93"/><circle cx="1189.2" cy="467.4" r="3.93"/><circle cx="1191.2" cy="470.3" r="3.93"/><circle cx="1193.6" cy="474.1" r="3.93"/><circle cx="1195.4" cy="477.8" r="3.87"/><circle cx="1197.1" cy="481.4" r="3.87"/><circle cx="1198.8" cy="485.0" r="3.87"/><circle cx="1200.1" cy="487.8" r="3.87"/><circle cx="1203.3" cy="486.8" r="4.10"/><circle cx="1206.3" cy="485.2" r="3.91"/><circle cx="1208.6" cy="481.4" r="3.91"/><circle cx="1210.8" cy="478.0" r="3.91"/><circle cx="1212.5" cy="475.1" r="3.91"/><circle cx="1214.6" cy="471.8" r="3.91"/><circle cx="1216.5" cy="469.1" r="3.91"/><circle cx="1218.6" cy="465.5" r="3.91"/><circle cx="1219.8" cy="462.6" r="3.81"/><circle cx="1220.3" cy="459.7" r="3.81"/><circle cx="1221.0" cy="456.0" r="3.81"/><circle cx="1221.7" cy="452.4" r="3.81"/><circle cx="1223.3" cy="448.7" r="3.88"/><circle cx="1225.2" cy="445.0" r="3.88"/><circle cx="1227.0" cy="441.6" r="3.88"/><circle cx="1229.9" cy="439.2" r="4.16"/><circle cx="1234.0" cy="438.6" r="4.16"/><circle cx="1237.2" cy="439.4" r="4.12"/><circle cx="1240.0" cy="441.4" r="4.12"/><circle cx="1243.0" cy="443.1" r="3.89"/><circle cx="1245.0" cy="446.5" r="3.89"/><circle cx="1246.9" cy="449.9" r="3.89"/><circle cx="1248.7" cy="453.3" r="3.84"/><circle cx="1249.8" cy="456.9" r="3.84"/><circle cx="1250.8" cy="460.1" r="3.84"/><circle cx="1251.8" cy="463.2" r="3.84"/><circle cx="1252.7" cy="466.2" r="3.84"/><circle cx="1254.6" cy="468.7" r="4.00"/><circle cx="1257.0" cy="471.5" r="4.00"/><circle cx="1259.1" cy="473.3" r="4.00"/><circle cx="1261.1" cy="475.3" r="4.00"/><circle cx="1263.9" cy="478.0" r="4.00"/><circle cx="1266.5" cy="481.6" r="3.89"/><circle cx="1268.0" cy="484.6" r="3.89"/><circle cx="1270.1" cy="488.1" r="3.89"/><circle cx="1272.0" cy="491.9" r="3.89"/><circle cx="1273.7" cy="494.8" r="3.89"/><circle cx="1275.6" cy="497.9" r="3.89"/><circle cx="1277.9" cy="499.8" r="4.15"/><circle cx="1280.7" cy="502.1" r="3.92"/><circle cx="1283.0" cy="505.7" r="3.92"/><circle cx="1285.1" cy="509.4" r="3.87"/><circle cx="1286.5" cy="512.4" r="3.87"/><circle cx="1288.4" cy="515.6" r="4.02"/><circle cx="1290.9" cy="518.1" r="4.02"/><circle cx="1293.4" cy="520.0" r="4.02"/><circle cx="1295.6" cy="522.6" r="3.95"/><circle cx="1297.6" cy="524.7" r="3.95"/><circle cx="1299.7" cy="527.5" r="3.95"/><circle cx="1301.9" cy="530.0" r="3.95"/><circle cx="1303.0" cy="533.0" r="3.84"/><circle cx="1304.3" cy="536.8" r="3.84"/><circle cx="1306.8" cy="539.4" r="4.07"/><circle cx="1309.5" cy="540.8" r="4.07"/><circle cx="1311.4" cy="544.5" r="3.89"/><circle cx="1313.2" cy="547.8" r="3.89"/><circle cx="1315.4" cy="550.4" r="4.02"/><circle cx="1318.4" cy="553.4" r="4.02"/><circle cx="1321.0" cy="555.4" r="4.02"/><circle cx="1323.4" cy="557.4" r="4.02"/><circle cx="1326.1" cy="559.8" r="4.02"/><circle cx="1328.5" cy="562.5" r="4.05"/><circle cx="1331.7" cy="564.0" r="4.15"/><circle cx="1335.4" cy="563.5" r="3.97"/><circle cx="1337.8" cy="565.6" r="3.97"/><circle cx="1340.5" cy="568.8" r="3.97"/><circle cx="1343.0" cy="571.9" r="3.97"/><circle cx="1345.3" cy="574.6" r="3.97"/><circle cx="1348.6" cy="575.0" r="4.20"/><circle cx="1352.0" cy="576.8" r="4.03"/><circle cx="1354.4" cy="579.1" r="4.03"/><circle cx="1357.4" cy="581.9" r="4.03"/><circle cx="1360.7" cy="584.4" r="4.03"/><circle cx="1362.9" cy="587.1" r="3.88"/><circle cx="1364.8" cy="591.1" r="3.88"/><circle cx="1366.3" cy="593.8" r="3.88"/><circle cx="1367.6" cy="596.4" r="3.88"/><circle cx="1371.1" cy="596.0" r="4.14"/><circle cx="1373.8" cy="595.5" r="4.14"/><circle cx="1377.6" cy="593.5" r="4.14"/><circle cx="1380.2" cy="590.4" r="3.92"/><circle cx="1382.3" cy="587.0" r="3.92"/><circle cx="1384.6" cy="583.6" r="3.91"/><circle cx="1386.8" cy="580.2" r="3.91"/><circle cx="1388.8" cy="576.8" r="3.91"/><circle cx="1390.8" cy="573.5" r="3.91"/><circle cx="1392.8" cy="569.9" r="3.91"/><circle cx="1394.8" cy="566.9" r="3.91"/><circle cx="1396.5" cy="564.0" r="4.00"/><circle cx="1399.3" cy="561.2" r="4.00"/><circle cx="1401.9" cy="558.9" r="4.02"/><circle cx="1404.3" cy="556.5" r="4.02"/><circle cx="1407.1" cy="554.6" r="4.02"/><circle cx="1410.3" cy="554.0" r="4.16"/><circle cx="1413.3" cy="555.4" r="4.16"/><circle cx="1417.2" cy="556.2" r="4.16"/><circle cx="1420.0" cy="556.6" r="4.16"/><circle cx="1423.6" cy="555.6" r="4.17"/><circle cx="1427.1" cy="556.8" r="4.02"/><circle cx="1430.2" cy="559.9" r="4.02"/><circle cx="1432.4" cy="562.4" r="4.02"/><circle cx="1435.0" cy="564.0" r="4.02"/><circle cx="1437.5" cy="566.6" r="4.04"/><circle cx="1440.0" cy="568.1" r="4.04"/><circle cx="1442.4" cy="570.1" r="4.04"/><circle cx="1445.8" cy="571.6" r="4.17"/><circle cx="1449.0" cy="572.8" r="4.17"/><circle cx="1452.1" cy="573.7" r="4.10"/><circle cx="1455.3" cy="576.0" r="4.10"/><circle cx="1458.6" cy="577.7" r="4.10"/><circle cx="1461.5" cy="579.1" r="4.10"/><circle cx="1465.1" cy="580.4" r="4.16"/><circle cx="1469.0" cy="581.5" r="4.16"/><circle cx="1473.2" cy="583.0" r="4.19"/><circle cx="1477.2" cy="583.5" r="4.19"/><circle cx="1481.1" cy="583.3" r="4.19"/><circle cx="1484.9" cy="584.5" r="4.19"/><circle cx="1489.2" cy="585.6" r="4.19"/><circle cx="1493.0" cy="585.7" r="4.19"/><circle cx="1496.9" cy="586.1" r="4.19"/><circle cx="1500.8" cy="584.4" r="4.19"/><circle cx="1504.7" cy="585.1" r="4.17"/><circle cx="1508.2" cy="583.4" r="4.17"/><circle cx="1511.2" cy="582.9" r="4.17"/><circle cx="1514.9" cy="581.7" r="4.17"/><circle cx="1517.9" cy="580.3" r="4.17"/><circle cx="1521.1" cy="579.4" r="4.20"/><circle cx="1524.1" cy="579.1" r="4.20"/><circle cx="1528.0" cy="580.0" r="4.20"/><circle cx="1531.9" cy="579.6" r="4.17"/><circle cx="1535.3" cy="578.4" r="4.17"/><circle cx="1539.0" cy="576.8" r="4.17"/><circle cx="1542.5" cy="576.9" r="4.17"/><circle cx="1545.6" cy="575.5" r="4.17"/><circle cx="1549.0" cy="573.8" r="4.16"/><circle cx="1552.2" cy="573.5" r="4.16"/><circle cx="1555.8" cy="571.3" r="4.16"/><circle cx="1559.9" cy="570.7" r="4.16"/><circle cx="1562.6" cy="569.7" r="4.13"/><circle cx="1565.5" cy="571.4" r="4.13"/><circle cx="1569.2" cy="572.4" r="4.13"/><circle cx="1572.9" cy="571.5" r="4.12"/><circle cx="1575.7" cy="569.5" r="4.12"/><circle cx="1579.1" cy="567.8" r="4.12"/><circle cx="1582.4" cy="568.0" r="4.19"/><circle cx="1586.3" cy="567.3" r="4.19"/><circle cx="1589.6" cy="567.3" r="4.19"/><circle cx="1592.6" cy="567.0" r="4.19"/><circle cx="1596.8" cy="566.0" r="4.19"/><circle cx="1600.4" cy="564.6" r="4.19"/><circle cx="1603.9" cy="564.2" r="4.19"/><circle cx="1607.5" cy="563.3" r="4.17"/><circle cx="1610.9" cy="563.0" r="4.17"/><circle cx="1614.5" cy="561.2" r="4.17"/><circle cx="1617.6" cy="561.2" r="4.17"/><circle cx="1621.4" cy="559.8" r="4.17"/><circle cx="1624.4" cy="559.6" r="4.17"/><circle cx="1627.9" cy="557.6" r="4.18"/><circle cx="1630.9" cy="556.4" r="4.18"/><circle cx="1634.1" cy="556.4" r="4.18"/><circle cx="1637.9" cy="556.2" r="4.18"/><circle cx="1641.7" cy="554.5" r="4.20"/><circle cx="1645.4" cy="555.0" r="4.20"/><circle cx="1648.5" cy="554.7" r="4.20"/><circle cx="1652.4" cy="553.8" r="4.20"/><circle cx="1656.3" cy="554.0" r="4.20"/><circle cx="1659.8" cy="552.3" r="4.20"/><circle cx="1662.9" cy="552.7" r="4.18"/><circle cx="1666.9" cy="552.0" r="4.18"/><circle cx="1670.1" cy="551.4" r="4.18"/><circle cx="1673.4" cy="550.1" r="4.18"/><circle cx="1677.6" cy="548.9" r="4.18"/><circle cx="1681.8" cy="547.8" r="4.19"/><circle cx="1685.5" cy="548.2" r="4.19"/><circle cx="1689.3" cy="549.1" r="4.19"/><circle cx="1693.0" cy="548.3" r="4.11"/><circle cx="1695.7" cy="546.1" r="4.11"/><circle cx="1698.3" cy="545.6" r="4.11"/><circle cx="1702.0" cy="543.4" r="4.20"/><circle cx="1706.3" cy="543.7" r="4.20"/><circle cx="1709.8" cy="543.2" r="4.20"/><circle cx="1713.3" cy="544.2" r="4.09"/><circle cx="1716.5" cy="546.3" r="4.09"/><circle cx="1719.2" cy="546.7" r="4.09"/><circle cx="1722.5" cy="548.6" r="4.12"/><circle cx="1726.3" cy="546.6" r="4.12"/><circle cx="1730.1" cy="544.6" r="4.12"/><circle cx="1733.1" cy="542.0" r="4.00"/><circle cx="1735.4" cy="539.7" r="4.00"/><circle cx="1738.0" cy="537.6" r="4.00"/><circle cx="1740.8" cy="534.7" r="4.00"/><circle cx="1743.3" cy="532.2" r="4.08"/><circle cx="1746.2" cy="529.8" r="4.08"/><circle cx="1749.3" cy="528.5" r="4.16"/><circle cx="1753.2" cy="526.5" r="4.16"/><circle cx="1755.9" cy="527.5" r="4.12"/><circle cx="1758.6" cy="528.2" r="4.12"/><circle cx="1761.8" cy="529.9" r="3.91"/><circle cx="1763.9" cy="533.4" r="3.91"/><circle cx="1766.0" cy="536.8" r="3.91"/><circle cx="1767.9" cy="540.0" r="3.91"/><circle cx="1769.7" cy="542.7" r="3.91"/><circle cx="1771.0" cy="545.4" r="3.85"/><circle cx="1772.4" cy="549.2" r="3.85"/><circle cx="1773.9" cy="553.0" r="3.85"/><circle cx="1775.2" cy="556.7" r="3.85"/><circle cx="1776.5" cy="559.9" r="3.85"/><circle cx="1778.6" cy="563.9" r="3.92"/><circle cx="1780.5" cy="566.4" r="3.92"/><circle cx="1782.8" cy="570.1" r="3.92"/><circle cx="1784.7" cy="572.7" r="3.92"/><circle cx="1786.7" cy="574.6" r="4.06"/><circle cx="1790.1" cy="577.5" r="4.06"/><circle cx="1792.5" cy="579.0" r="4.06"/><circle cx="1796.0" cy="578.1" r="4.14"/><circle cx="1799.4" cy="576.9" r="4.14"/><circle cx="1801.9" cy="575.2" r="3.93"/><circle cx="1803.9" cy="572.0" r="3.93"/><circle cx="1805.6" cy="569.6" r="3.93"/><circle cx="1807.5" cy="566.9" r="3.93"/><circle cx="1809.4" cy="563.8" r="3.88"/><circle cx="1810.7" cy="561.3" r="3.88"/><circle cx="1812.2" cy="558.0" r="3.88"/><circle cx="1813.6" cy="555.3" r="3.88"/><circle cx="1814.7" cy="555.5" r="3.82"/><circle cx="1815.6" cy="558.9" r="3.82"/><circle cx="1816.3" cy="562.1" r="3.82"/><circle cx="1817.7" cy="566.1" r="4.19"/><circle cx="1821.5" cy="567.1" r="4.19"/><circle cx="1825.2" cy="566.4" r="3.98"/><circle cx="1827.6" cy="563.4" r="3.98"/><circle cx="1829.9" cy="561.4" r="3.98"/><circle cx="1832.7" cy="558.2" r="3.98"/><circle cx="1835.3" cy="555.2" r="3.98"/><circle cx="1837.5" cy="553.2" r="3.98"/><circle cx="1838.0" cy="555.4" r="3.80"/><circle cx="1838.3" cy="558.5" r="3.80"/><circle cx="1838.6" cy="561.5" r="3.80"/><circle cx="1838.9" cy="565.5" r="3.80"/><circle cx="1839.2" cy="568.7" r="3.80"/><circle cx="1839.5" cy="572.1" r="3.80"/><circle cx="1839.8" cy="575.9" r="3.80"/></g>
<rect x="1099.5" y="55.2" width="770.5" height="631.8" fill="none" stroke="#000" stroke-width="2.6"/>
<line x1="1087.0" y1="687.0" x2="1099.5" y2="687.0" stroke="#000" stroke-width="2.4"/>
<line x1="1093.0" y1="596.8" x2="1099.5" y2="596.8" stroke="#000" stroke-width="2.4"/>
<line x1="1087.0" y1="506.5" x2="1099.5" y2="506.5" stroke="#000" stroke-width="2.4"/>
<line x1="1093.0" y1="416.2" x2="1099.5" y2="416.2" stroke="#000" stroke-width="2.4"/>
<line x1="1087.0" y1="326.0" x2="1099.5" y2="326.0" stroke="#000" stroke-width="2.4"/>
<line x1="1093.0" y1="235.8" x2="1099.5" y2="235.8" stroke="#000" stroke-width="2.4"/>
<line x1="1087.0" y1="145.5" x2="1099.5" y2="145.5" stroke="#000" stroke-width="2.4"/>
<line x1="1093.0" y1="55.2" x2="1099.5" y2="55.2" stroke="#000" stroke-width="2.4"/>
<text x="1077.5" y="694.8" text-anchor="end" class="tl">0.0</text>
<text x="1077.5" y="514.3" text-anchor="end" class="tl">0.5</text>
<text x="1077.5" y="333.8" text-anchor="end" class="tl">1.0</text>
<text x="1077.5" y="153.3" text-anchor="end" class="tl">1.5</text>
<line x1="1129.0" y1="687.0" x2="1129.0" y2="699.5" stroke="#000" stroke-width="2.4"/>
<text x="1129.0" y="728.8" text-anchor="middle" class="tl">00:00</text>
<line x1="1188.3" y1="687.0" x2="1188.3" y2="693.5" stroke="#000" stroke-width="2.4"/>
<line x1="1247.5" y1="687.0" x2="1247.5" y2="699.5" stroke="#000" stroke-width="2.4"/>
<text x="1247.5" y="728.8" text-anchor="middle" class="tl">00:10</text>
<line x1="1306.8" y1="687.0" x2="1306.8" y2="693.5" stroke="#000" stroke-width="2.4"/>
<line x1="1366.1" y1="687.0" x2="1366.1" y2="699.5" stroke="#000" stroke-width="2.4"/>
<text x="1366.1" y="728.8" text-anchor="middle" class="tl">00:20</text>
<line x1="1425.3" y1="687.0" x2="1425.3" y2="693.5" stroke="#000" stroke-width="2.4"/>
<line x1="1484.6" y1="687.0" x2="1484.6" y2="699.5" stroke="#000" stroke-width="2.4"/>
<text x="1484.6" y="728.8" text-anchor="middle" class="tl">00:30</text>
<line x1="1543.9" y1="687.0" x2="1543.9" y2="693.5" stroke="#000" stroke-width="2.4"/>
<line x1="1603.1" y1="687.0" x2="1603.1" y2="699.5" stroke="#000" stroke-width="2.4"/>
<text x="1603.1" y="728.8" text-anchor="middle" class="tl">00:40</text>
<line x1="1662.4" y1="687.0" x2="1662.4" y2="693.5" stroke="#000" stroke-width="2.4"/>
<line x1="1721.7" y1="687.0" x2="1721.7" y2="699.5" stroke="#000" stroke-width="2.4"/>
<text x="1721.7" y="728.8" text-anchor="middle" class="tl">00:50</text>
<line x1="1780.9" y1="687.0" x2="1780.9" y2="693.5" stroke="#000" stroke-width="2.4"/>
<line x1="1840.2" y1="687.0" x2="1840.2" y2="699.5" stroke="#000" stroke-width="2.4"/>
<text x="1840.2" y="728.8" text-anchor="middle" class="tl">01:00</text>
<text x="1116.0" y="44.6" class="top">Idle</text>
<text x="1220.4" y="44.6" class="top">50 km/h</text>
<text x="1385.2" y="44.6" class="top">100 km/h</text>
<text x="1575.8" y="44.6" class="top">80 km/h</text>
<text x="1766.3" y="44.6" class="top">Idle</text>
<text x="1112.5" y="96" class="pl">(b)</text>
<text x="1382" y="780" class="ti">Time (hh:mm)</text>
<g transform="translate(1020.7,568) rotate(-90)"><text x="0" y="0" class="ti">ROS<tspan font-size="22" dy="9">M</tspan><tspan dy="-9">(H</tspan><tspan font-size="22" dy="9"> 2</tspan><tspan dy="-9">O</tspan><tspan font-size="22" dy="9">2</tspan><tspan dy="-9" xml:space="preserve">eq. nmol  μg</tspan><tspan font-size="20" dy="-13">-1</tspan><tspan dy="13">)</tspan></text></g>
</svg>
</body></html>
